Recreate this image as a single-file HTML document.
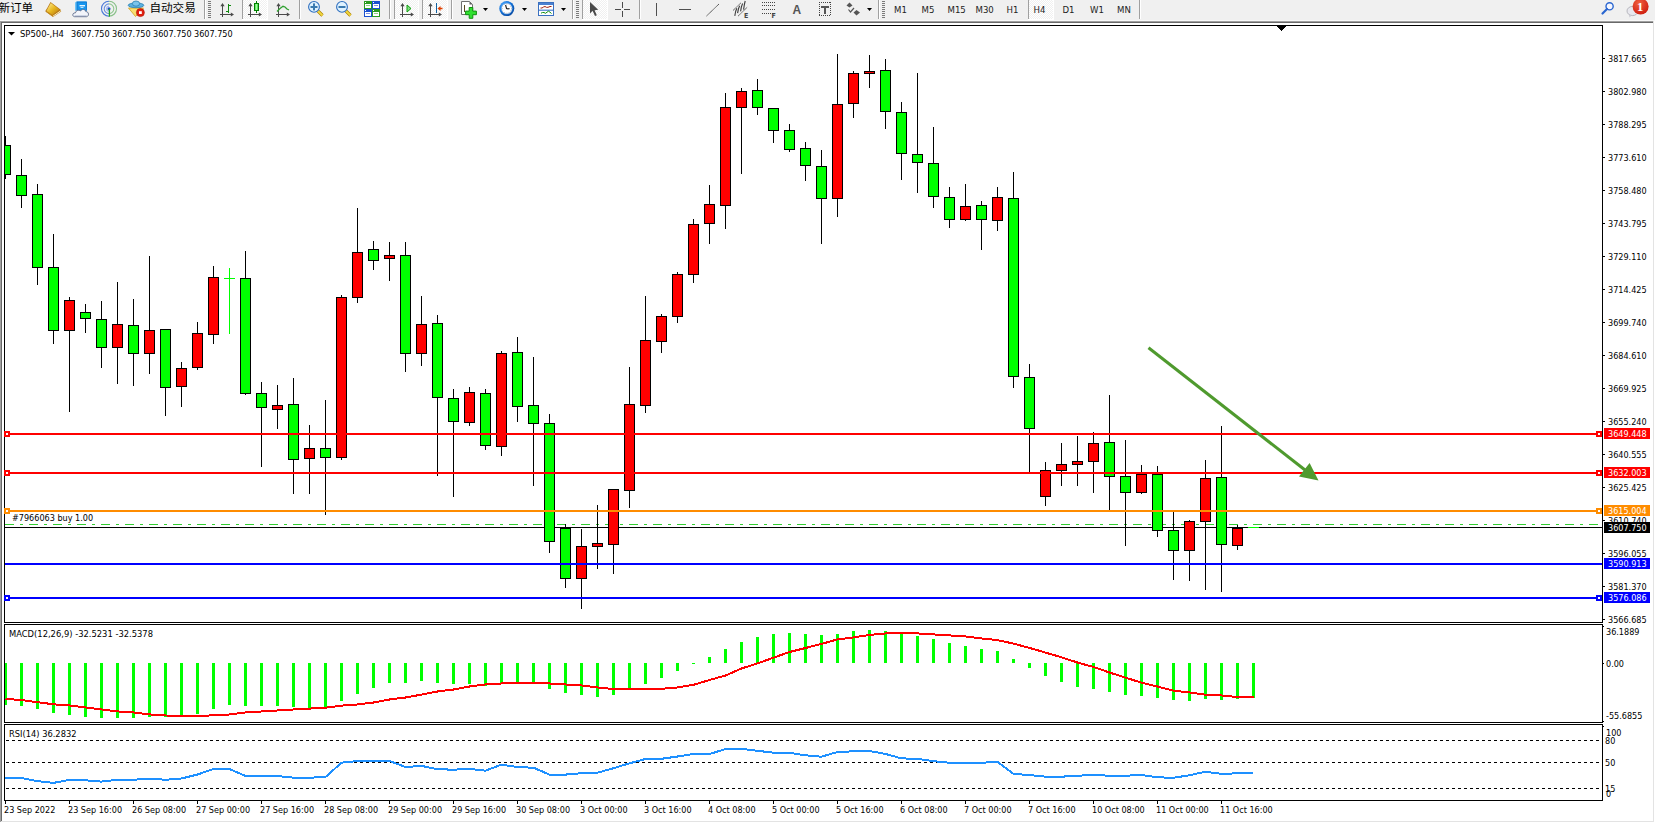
<!DOCTYPE html>
<html><head><meta charset="utf-8"><title>MT4 SP500 H4</title>
<style>
html,body{margin:0;padding:0;background:#fff;width:1655px;height:823px;overflow:hidden}
svg{display:block}
text{white-space:pre}
</style></head><body>
<svg width="1655" height="823" viewBox="0 0 1655 823" shape-rendering="crispEdges">
<rect x="0" y="0" width="1655" height="823" fill="#ffffff"/>
<defs><clipPath id="cmain"><rect x="5" y="26" width="1597" height="596"/></clipPath><clipPath id="cmacd"><rect x="5" y="625" width="1597" height="97"/></clipPath><clipPath id="crsi"><rect x="5" y="725" width="1597" height="75"/></clipPath></defs>
<rect x="0" y="0" width="1655" height="21" fill="#f0f0f0"/>
<rect x="0" y="20" width="1655" height="1" fill="#f8f8f8"/>
<rect x="0" y="21" width="1653" height="1" fill="#a0a0a0"/>
<rect x="0" y="22" width="1653" height="1" fill="#696969"/>
<rect x="0" y="21" width="1" height="801" fill="#a0a0a0"/>
<rect x="1" y="22" width="1" height="800" fill="#696969"/>
<rect x="1653" y="21" width="1" height="801" fill="#e3e3e3"/>
<rect x="1" y="821" width="1653" height="1" fill="#e3e3e3"/>
<rect x="1654" y="21" width="1" height="802" fill="#ffffff"/>
<rect x="0" y="822" width="1655" height="1" fill="#ffffff"/>
<rect x="5" y="524" width="9" height="1" fill="#32cd32"/>
<rect x="20" y="524" width="3" height="1" fill="#32cd32"/>
<rect x="29" y="524" width="9" height="1" fill="#32cd32"/>
<rect x="44" y="524" width="3" height="1" fill="#32cd32"/>
<rect x="53" y="524" width="9" height="1" fill="#32cd32"/>
<rect x="68" y="524" width="3" height="1" fill="#32cd32"/>
<rect x="77" y="524" width="9" height="1" fill="#32cd32"/>
<rect x="92" y="524" width="3" height="1" fill="#32cd32"/>
<rect x="101" y="524" width="9" height="1" fill="#32cd32"/>
<rect x="116" y="524" width="3" height="1" fill="#32cd32"/>
<rect x="125" y="524" width="9" height="1" fill="#32cd32"/>
<rect x="140" y="524" width="3" height="1" fill="#32cd32"/>
<rect x="149" y="524" width="9" height="1" fill="#32cd32"/>
<rect x="164" y="524" width="3" height="1" fill="#32cd32"/>
<rect x="173" y="524" width="9" height="1" fill="#32cd32"/>
<rect x="188" y="524" width="3" height="1" fill="#32cd32"/>
<rect x="197" y="524" width="9" height="1" fill="#32cd32"/>
<rect x="212" y="524" width="3" height="1" fill="#32cd32"/>
<rect x="221" y="524" width="9" height="1" fill="#32cd32"/>
<rect x="236" y="524" width="3" height="1" fill="#32cd32"/>
<rect x="245" y="524" width="9" height="1" fill="#32cd32"/>
<rect x="260" y="524" width="3" height="1" fill="#32cd32"/>
<rect x="269" y="524" width="9" height="1" fill="#32cd32"/>
<rect x="284" y="524" width="3" height="1" fill="#32cd32"/>
<rect x="293" y="524" width="9" height="1" fill="#32cd32"/>
<rect x="308" y="524" width="3" height="1" fill="#32cd32"/>
<rect x="317" y="524" width="9" height="1" fill="#32cd32"/>
<rect x="332" y="524" width="3" height="1" fill="#32cd32"/>
<rect x="341" y="524" width="9" height="1" fill="#32cd32"/>
<rect x="356" y="524" width="3" height="1" fill="#32cd32"/>
<rect x="365" y="524" width="9" height="1" fill="#32cd32"/>
<rect x="380" y="524" width="3" height="1" fill="#32cd32"/>
<rect x="389" y="524" width="9" height="1" fill="#32cd32"/>
<rect x="404" y="524" width="3" height="1" fill="#32cd32"/>
<rect x="413" y="524" width="9" height="1" fill="#32cd32"/>
<rect x="428" y="524" width="3" height="1" fill="#32cd32"/>
<rect x="437" y="524" width="9" height="1" fill="#32cd32"/>
<rect x="452" y="524" width="3" height="1" fill="#32cd32"/>
<rect x="461" y="524" width="9" height="1" fill="#32cd32"/>
<rect x="476" y="524" width="3" height="1" fill="#32cd32"/>
<rect x="485" y="524" width="9" height="1" fill="#32cd32"/>
<rect x="500" y="524" width="3" height="1" fill="#32cd32"/>
<rect x="509" y="524" width="9" height="1" fill="#32cd32"/>
<rect x="524" y="524" width="3" height="1" fill="#32cd32"/>
<rect x="533" y="524" width="9" height="1" fill="#32cd32"/>
<rect x="548" y="524" width="3" height="1" fill="#32cd32"/>
<rect x="557" y="524" width="9" height="1" fill="#32cd32"/>
<rect x="572" y="524" width="3" height="1" fill="#32cd32"/>
<rect x="581" y="524" width="9" height="1" fill="#32cd32"/>
<rect x="596" y="524" width="3" height="1" fill="#32cd32"/>
<rect x="605" y="524" width="9" height="1" fill="#32cd32"/>
<rect x="620" y="524" width="3" height="1" fill="#32cd32"/>
<rect x="629" y="524" width="9" height="1" fill="#32cd32"/>
<rect x="644" y="524" width="3" height="1" fill="#32cd32"/>
<rect x="653" y="524" width="9" height="1" fill="#32cd32"/>
<rect x="668" y="524" width="3" height="1" fill="#32cd32"/>
<rect x="677" y="524" width="9" height="1" fill="#32cd32"/>
<rect x="692" y="524" width="3" height="1" fill="#32cd32"/>
<rect x="701" y="524" width="9" height="1" fill="#32cd32"/>
<rect x="716" y="524" width="3" height="1" fill="#32cd32"/>
<rect x="725" y="524" width="9" height="1" fill="#32cd32"/>
<rect x="740" y="524" width="3" height="1" fill="#32cd32"/>
<rect x="749" y="524" width="9" height="1" fill="#32cd32"/>
<rect x="764" y="524" width="3" height="1" fill="#32cd32"/>
<rect x="773" y="524" width="9" height="1" fill="#32cd32"/>
<rect x="788" y="524" width="3" height="1" fill="#32cd32"/>
<rect x="797" y="524" width="9" height="1" fill="#32cd32"/>
<rect x="812" y="524" width="3" height="1" fill="#32cd32"/>
<rect x="821" y="524" width="9" height="1" fill="#32cd32"/>
<rect x="836" y="524" width="3" height="1" fill="#32cd32"/>
<rect x="845" y="524" width="9" height="1" fill="#32cd32"/>
<rect x="860" y="524" width="3" height="1" fill="#32cd32"/>
<rect x="869" y="524" width="9" height="1" fill="#32cd32"/>
<rect x="884" y="524" width="3" height="1" fill="#32cd32"/>
<rect x="893" y="524" width="9" height="1" fill="#32cd32"/>
<rect x="908" y="524" width="3" height="1" fill="#32cd32"/>
<rect x="917" y="524" width="9" height="1" fill="#32cd32"/>
<rect x="932" y="524" width="3" height="1" fill="#32cd32"/>
<rect x="941" y="524" width="9" height="1" fill="#32cd32"/>
<rect x="956" y="524" width="3" height="1" fill="#32cd32"/>
<rect x="965" y="524" width="9" height="1" fill="#32cd32"/>
<rect x="980" y="524" width="3" height="1" fill="#32cd32"/>
<rect x="989" y="524" width="9" height="1" fill="#32cd32"/>
<rect x="1004" y="524" width="3" height="1" fill="#32cd32"/>
<rect x="1013" y="524" width="9" height="1" fill="#32cd32"/>
<rect x="1028" y="524" width="3" height="1" fill="#32cd32"/>
<rect x="1037" y="524" width="9" height="1" fill="#32cd32"/>
<rect x="1052" y="524" width="3" height="1" fill="#32cd32"/>
<rect x="1061" y="524" width="9" height="1" fill="#32cd32"/>
<rect x="1076" y="524" width="3" height="1" fill="#32cd32"/>
<rect x="1085" y="524" width="9" height="1" fill="#32cd32"/>
<rect x="1100" y="524" width="3" height="1" fill="#32cd32"/>
<rect x="1109" y="524" width="9" height="1" fill="#32cd32"/>
<rect x="1124" y="524" width="3" height="1" fill="#32cd32"/>
<rect x="1133" y="524" width="9" height="1" fill="#32cd32"/>
<rect x="1148" y="524" width="3" height="1" fill="#32cd32"/>
<rect x="1157" y="524" width="9" height="1" fill="#32cd32"/>
<rect x="1172" y="524" width="3" height="1" fill="#32cd32"/>
<rect x="1181" y="524" width="9" height="1" fill="#32cd32"/>
<rect x="1196" y="524" width="3" height="1" fill="#32cd32"/>
<rect x="1205" y="524" width="9" height="1" fill="#32cd32"/>
<rect x="1220" y="524" width="3" height="1" fill="#32cd32"/>
<rect x="1229" y="524" width="9" height="1" fill="#32cd32"/>
<rect x="1244" y="524" width="3" height="1" fill="#32cd32"/>
<rect x="1253" y="524" width="9" height="1" fill="#32cd32"/>
<rect x="1268" y="524" width="3" height="1" fill="#32cd32"/>
<rect x="1277" y="524" width="9" height="1" fill="#32cd32"/>
<rect x="1292" y="524" width="3" height="1" fill="#32cd32"/>
<rect x="1301" y="524" width="9" height="1" fill="#32cd32"/>
<rect x="1316" y="524" width="3" height="1" fill="#32cd32"/>
<rect x="1325" y="524" width="9" height="1" fill="#32cd32"/>
<rect x="1340" y="524" width="3" height="1" fill="#32cd32"/>
<rect x="1349" y="524" width="9" height="1" fill="#32cd32"/>
<rect x="1364" y="524" width="3" height="1" fill="#32cd32"/>
<rect x="1373" y="524" width="9" height="1" fill="#32cd32"/>
<rect x="1388" y="524" width="3" height="1" fill="#32cd32"/>
<rect x="1397" y="524" width="9" height="1" fill="#32cd32"/>
<rect x="1412" y="524" width="3" height="1" fill="#32cd32"/>
<rect x="1421" y="524" width="9" height="1" fill="#32cd32"/>
<rect x="1436" y="524" width="3" height="1" fill="#32cd32"/>
<rect x="1445" y="524" width="9" height="1" fill="#32cd32"/>
<rect x="1460" y="524" width="3" height="1" fill="#32cd32"/>
<rect x="1469" y="524" width="9" height="1" fill="#32cd32"/>
<rect x="1484" y="524" width="3" height="1" fill="#32cd32"/>
<rect x="1493" y="524" width="9" height="1" fill="#32cd32"/>
<rect x="1508" y="524" width="3" height="1" fill="#32cd32"/>
<rect x="1517" y="524" width="9" height="1" fill="#32cd32"/>
<rect x="1532" y="524" width="3" height="1" fill="#32cd32"/>
<rect x="1541" y="524" width="9" height="1" fill="#32cd32"/>
<rect x="1556" y="524" width="3" height="1" fill="#32cd32"/>
<rect x="1565" y="524" width="9" height="1" fill="#32cd32"/>
<rect x="1580" y="524" width="3" height="1" fill="#32cd32"/>
<rect x="1589" y="524" width="9" height="1" fill="#32cd32"/>
<rect x="5" y="527" width="1597" height="1" fill="#000"/>
<rect x="1248" y="527" width="11" height="1" fill="#00ff00"/>
<g clip-path="url(#cmain)">
<rect x="5" y="136" width="1" height="43" fill="#000"/>
<rect x="21" y="159" width="1" height="49" fill="#000"/>
<rect x="37" y="184" width="1" height="101" fill="#000"/>
<rect x="53" y="234" width="1" height="110" fill="#000"/>
<rect x="69" y="297" width="1" height="115" fill="#000"/>
<rect x="85" y="304" width="1" height="29" fill="#000"/>
<rect x="101" y="301" width="1" height="67" fill="#000"/>
<rect x="117" y="282" width="1" height="102" fill="#000"/>
<rect x="133" y="299" width="1" height="87" fill="#000"/>
<rect x="149" y="256" width="1" height="118" fill="#000"/>
<rect x="165" y="329" width="1" height="87" fill="#000"/>
<rect x="181" y="362" width="1" height="45" fill="#000"/>
<rect x="197" y="322" width="1" height="48" fill="#000"/>
<rect x="213" y="266" width="1" height="78" fill="#000"/>
<rect x="229" y="268" width="1" height="66" fill="#00ff00"/>
<rect x="224" y="278" width="11" height="1" fill="#00ff00"/>
<rect x="245" y="251" width="1" height="144" fill="#000"/>
<rect x="261" y="382" width="1" height="85" fill="#000"/>
<rect x="277" y="385" width="1" height="44" fill="#000"/>
<rect x="293" y="378" width="1" height="116" fill="#000"/>
<rect x="309" y="425" width="1" height="69" fill="#000"/>
<rect x="325" y="400" width="1" height="115" fill="#000"/>
<rect x="341" y="295" width="1" height="165" fill="#000"/>
<rect x="357" y="208" width="1" height="95" fill="#000"/>
<rect x="373" y="241" width="1" height="29" fill="#000"/>
<rect x="389" y="242" width="1" height="39" fill="#000"/>
<rect x="405" y="242" width="1" height="130" fill="#000"/>
<rect x="421" y="296" width="1" height="70" fill="#000"/>
<rect x="437" y="315" width="1" height="161" fill="#000"/>
<rect x="453" y="389" width="1" height="108" fill="#000"/>
<rect x="469" y="387" width="1" height="39" fill="#000"/>
<rect x="485" y="389" width="1" height="61" fill="#000"/>
<rect x="501" y="351" width="1" height="105" fill="#000"/>
<rect x="517" y="337" width="1" height="85" fill="#000"/>
<rect x="533" y="357" width="1" height="129" fill="#000"/>
<rect x="549" y="414" width="1" height="139" fill="#000"/>
<rect x="565" y="524" width="1" height="64" fill="#000"/>
<rect x="581" y="529" width="1" height="80" fill="#000"/>
<rect x="597" y="505" width="1" height="64" fill="#000"/>
<rect x="613" y="489" width="1" height="85" fill="#000"/>
<rect x="629" y="367" width="1" height="141" fill="#000"/>
<rect x="645" y="296" width="1" height="117" fill="#000"/>
<rect x="661" y="314" width="1" height="39" fill="#000"/>
<rect x="677" y="272" width="1" height="51" fill="#000"/>
<rect x="693" y="219" width="1" height="64" fill="#000"/>
<rect x="709" y="185" width="1" height="59" fill="#000"/>
<rect x="725" y="93" width="1" height="136" fill="#000"/>
<rect x="741" y="88" width="1" height="86" fill="#000"/>
<rect x="757" y="79" width="1" height="36" fill="#000"/>
<rect x="773" y="108" width="1" height="35" fill="#000"/>
<rect x="789" y="124" width="1" height="28" fill="#000"/>
<rect x="805" y="142" width="1" height="39" fill="#000"/>
<rect x="821" y="150" width="1" height="94" fill="#000"/>
<rect x="837" y="54" width="1" height="163" fill="#000"/>
<rect x="853" y="71" width="1" height="47" fill="#000"/>
<rect x="869" y="55" width="1" height="33" fill="#000"/>
<rect x="885" y="59" width="1" height="70" fill="#000"/>
<rect x="901" y="102" width="1" height="78" fill="#000"/>
<rect x="917" y="73" width="1" height="120" fill="#000"/>
<rect x="933" y="127" width="1" height="81" fill="#000"/>
<rect x="949" y="187" width="1" height="41" fill="#000"/>
<rect x="965" y="184" width="1" height="37" fill="#000"/>
<rect x="981" y="201" width="1" height="49" fill="#000"/>
<rect x="997" y="187" width="1" height="44" fill="#000"/>
<rect x="1013" y="172" width="1" height="216" fill="#000"/>
<rect x="1029" y="364" width="1" height="108" fill="#000"/>
<rect x="1045" y="462" width="1" height="44" fill="#000"/>
<rect x="1061" y="443" width="1" height="43" fill="#000"/>
<rect x="1077" y="436" width="1" height="50" fill="#000"/>
<rect x="1093" y="432" width="1" height="61" fill="#000"/>
<rect x="1109" y="395" width="1" height="115" fill="#000"/>
<rect x="1125" y="440" width="1" height="106" fill="#000"/>
<rect x="1141" y="465" width="1" height="29" fill="#000"/>
<rect x="1157" y="466" width="1" height="71" fill="#000"/>
<rect x="1173" y="512" width="1" height="68" fill="#000"/>
<rect x="1189" y="520" width="1" height="61" fill="#000"/>
<rect x="1205" y="460" width="1" height="130" fill="#000"/>
<rect x="1221" y="426" width="1" height="166" fill="#000"/>
<rect x="1237" y="525" width="1" height="25" fill="#000"/>
<rect x="1248" y="527" width="11" height="1" fill="#00ff00"/>
<rect x="0" y="145" width="11" height="30" fill="#000"/>
<rect x="1" y="146" width="9" height="28" fill="#00ff00"/>
<rect x="16" y="175" width="11" height="21" fill="#000"/>
<rect x="17" y="176" width="9" height="19" fill="#00ff00"/>
<rect x="32" y="194" width="11" height="74" fill="#000"/>
<rect x="33" y="195" width="9" height="72" fill="#00ff00"/>
<rect x="48" y="267" width="11" height="64" fill="#000"/>
<rect x="49" y="268" width="9" height="62" fill="#00ff00"/>
<rect x="64" y="300" width="11" height="31" fill="#000"/>
<rect x="65" y="301" width="9" height="29" fill="#ff0000"/>
<rect x="80" y="312" width="11" height="7" fill="#000"/>
<rect x="81" y="313" width="9" height="5" fill="#00ff00"/>
<rect x="96" y="319" width="11" height="29" fill="#000"/>
<rect x="97" y="320" width="9" height="27" fill="#00ff00"/>
<rect x="112" y="324" width="11" height="24" fill="#000"/>
<rect x="113" y="325" width="9" height="22" fill="#ff0000"/>
<rect x="128" y="325" width="11" height="29" fill="#000"/>
<rect x="129" y="326" width="9" height="27" fill="#00ff00"/>
<rect x="144" y="330" width="11" height="24" fill="#000"/>
<rect x="145" y="331" width="9" height="22" fill="#ff0000"/>
<rect x="160" y="329" width="11" height="59" fill="#000"/>
<rect x="161" y="330" width="9" height="57" fill="#00ff00"/>
<rect x="176" y="368" width="11" height="19" fill="#000"/>
<rect x="177" y="369" width="9" height="17" fill="#ff0000"/>
<rect x="192" y="333" width="11" height="35" fill="#000"/>
<rect x="193" y="334" width="9" height="33" fill="#ff0000"/>
<rect x="208" y="277" width="11" height="58" fill="#000"/>
<rect x="209" y="278" width="9" height="56" fill="#ff0000"/>
<rect x="240" y="278" width="11" height="116" fill="#000"/>
<rect x="241" y="279" width="9" height="114" fill="#00ff00"/>
<rect x="256" y="393" width="11" height="15" fill="#000"/>
<rect x="257" y="394" width="9" height="13" fill="#00ff00"/>
<rect x="272" y="405" width="11" height="5" fill="#000"/>
<rect x="273" y="406" width="9" height="3" fill="#ff0000"/>
<rect x="288" y="404" width="11" height="56" fill="#000"/>
<rect x="289" y="405" width="9" height="54" fill="#00ff00"/>
<rect x="304" y="448" width="11" height="11" fill="#000"/>
<rect x="305" y="449" width="9" height="9" fill="#ff0000"/>
<rect x="320" y="448" width="11" height="10" fill="#000"/>
<rect x="321" y="449" width="9" height="8" fill="#00ff00"/>
<rect x="336" y="297" width="11" height="161" fill="#000"/>
<rect x="337" y="298" width="9" height="159" fill="#ff0000"/>
<rect x="352" y="252" width="11" height="46" fill="#000"/>
<rect x="353" y="253" width="9" height="44" fill="#ff0000"/>
<rect x="368" y="249" width="11" height="12" fill="#000"/>
<rect x="369" y="250" width="9" height="10" fill="#00ff00"/>
<rect x="384" y="255" width="11" height="4" fill="#000"/>
<rect x="385" y="256" width="9" height="2" fill="#ff0000"/>
<rect x="400" y="255" width="11" height="99" fill="#000"/>
<rect x="401" y="256" width="9" height="97" fill="#00ff00"/>
<rect x="416" y="324" width="11" height="30" fill="#000"/>
<rect x="417" y="325" width="9" height="28" fill="#ff0000"/>
<rect x="432" y="323" width="11" height="75" fill="#000"/>
<rect x="433" y="324" width="9" height="73" fill="#00ff00"/>
<rect x="448" y="398" width="11" height="24" fill="#000"/>
<rect x="449" y="399" width="9" height="22" fill="#00ff00"/>
<rect x="464" y="392" width="11" height="31" fill="#000"/>
<rect x="465" y="393" width="9" height="29" fill="#ff0000"/>
<rect x="480" y="393" width="11" height="53" fill="#000"/>
<rect x="481" y="394" width="9" height="51" fill="#00ff00"/>
<rect x="496" y="353" width="11" height="94" fill="#000"/>
<rect x="497" y="354" width="9" height="92" fill="#ff0000"/>
<rect x="512" y="352" width="11" height="55" fill="#000"/>
<rect x="513" y="353" width="9" height="53" fill="#00ff00"/>
<rect x="528" y="405" width="11" height="19" fill="#000"/>
<rect x="529" y="406" width="9" height="17" fill="#00ff00"/>
<rect x="544" y="423" width="11" height="119" fill="#000"/>
<rect x="545" y="424" width="9" height="117" fill="#00ff00"/>
<rect x="560" y="528" width="11" height="51" fill="#000"/>
<rect x="561" y="529" width="9" height="49" fill="#00ff00"/>
<rect x="576" y="546" width="11" height="33" fill="#000"/>
<rect x="577" y="547" width="9" height="31" fill="#ff0000"/>
<rect x="592" y="543" width="11" height="4" fill="#000"/>
<rect x="593" y="544" width="9" height="2" fill="#ff0000"/>
<rect x="608" y="489" width="11" height="56" fill="#000"/>
<rect x="609" y="490" width="9" height="54" fill="#ff0000"/>
<rect x="624" y="404" width="11" height="87" fill="#000"/>
<rect x="625" y="405" width="9" height="85" fill="#ff0000"/>
<rect x="640" y="340" width="11" height="66" fill="#000"/>
<rect x="641" y="341" width="9" height="64" fill="#ff0000"/>
<rect x="656" y="316" width="11" height="26" fill="#000"/>
<rect x="657" y="317" width="9" height="24" fill="#ff0000"/>
<rect x="672" y="274" width="11" height="43" fill="#000"/>
<rect x="673" y="275" width="9" height="41" fill="#ff0000"/>
<rect x="688" y="224" width="11" height="51" fill="#000"/>
<rect x="689" y="225" width="9" height="49" fill="#ff0000"/>
<rect x="704" y="204" width="11" height="20" fill="#000"/>
<rect x="705" y="205" width="9" height="18" fill="#ff0000"/>
<rect x="720" y="107" width="11" height="99" fill="#000"/>
<rect x="721" y="108" width="9" height="97" fill="#ff0000"/>
<rect x="736" y="91" width="11" height="17" fill="#000"/>
<rect x="737" y="92" width="9" height="15" fill="#ff0000"/>
<rect x="752" y="90" width="11" height="18" fill="#000"/>
<rect x="753" y="91" width="9" height="16" fill="#00ff00"/>
<rect x="768" y="108" width="11" height="23" fill="#000"/>
<rect x="769" y="109" width="9" height="21" fill="#00ff00"/>
<rect x="784" y="130" width="11" height="20" fill="#000"/>
<rect x="785" y="131" width="9" height="18" fill="#00ff00"/>
<rect x="800" y="148" width="11" height="18" fill="#000"/>
<rect x="801" y="149" width="9" height="16" fill="#00ff00"/>
<rect x="816" y="166" width="11" height="33" fill="#000"/>
<rect x="817" y="167" width="9" height="31" fill="#00ff00"/>
<rect x="832" y="104" width="11" height="95" fill="#000"/>
<rect x="833" y="105" width="9" height="93" fill="#ff0000"/>
<rect x="848" y="73" width="11" height="31" fill="#000"/>
<rect x="849" y="74" width="9" height="29" fill="#ff0000"/>
<rect x="864" y="71" width="11" height="3" fill="#000"/>
<rect x="865" y="72" width="9" height="1" fill="#ff0000"/>
<rect x="880" y="70" width="11" height="42" fill="#000"/>
<rect x="881" y="71" width="9" height="40" fill="#00ff00"/>
<rect x="896" y="112" width="11" height="42" fill="#000"/>
<rect x="897" y="113" width="9" height="40" fill="#00ff00"/>
<rect x="912" y="154" width="11" height="9" fill="#000"/>
<rect x="913" y="155" width="9" height="7" fill="#00ff00"/>
<rect x="928" y="163" width="11" height="34" fill="#000"/>
<rect x="929" y="164" width="9" height="32" fill="#00ff00"/>
<rect x="944" y="197" width="11" height="23" fill="#000"/>
<rect x="945" y="198" width="9" height="21" fill="#00ff00"/>
<rect x="960" y="206" width="11" height="14" fill="#000"/>
<rect x="961" y="207" width="9" height="12" fill="#ff0000"/>
<rect x="976" y="205" width="11" height="15" fill="#000"/>
<rect x="977" y="206" width="9" height="13" fill="#00ff00"/>
<rect x="992" y="197" width="11" height="24" fill="#000"/>
<rect x="993" y="198" width="9" height="22" fill="#ff0000"/>
<rect x="1008" y="198" width="11" height="179" fill="#000"/>
<rect x="1009" y="199" width="9" height="177" fill="#00ff00"/>
<rect x="1024" y="377" width="11" height="52" fill="#000"/>
<rect x="1025" y="378" width="9" height="50" fill="#00ff00"/>
<rect x="1040" y="470" width="11" height="27" fill="#000"/>
<rect x="1041" y="471" width="9" height="25" fill="#ff0000"/>
<rect x="1056" y="464" width="11" height="7" fill="#000"/>
<rect x="1057" y="465" width="9" height="5" fill="#ff0000"/>
<rect x="1072" y="461" width="11" height="4" fill="#000"/>
<rect x="1073" y="462" width="9" height="2" fill="#ff0000"/>
<rect x="1088" y="443" width="11" height="19" fill="#000"/>
<rect x="1089" y="444" width="9" height="17" fill="#ff0000"/>
<rect x="1104" y="442" width="11" height="35" fill="#000"/>
<rect x="1105" y="443" width="9" height="33" fill="#00ff00"/>
<rect x="1120" y="476" width="11" height="17" fill="#000"/>
<rect x="1121" y="477" width="9" height="15" fill="#00ff00"/>
<rect x="1136" y="474" width="11" height="19" fill="#000"/>
<rect x="1137" y="475" width="9" height="17" fill="#ff0000"/>
<rect x="1152" y="474" width="11" height="57" fill="#000"/>
<rect x="1153" y="475" width="9" height="55" fill="#00ff00"/>
<rect x="1168" y="530" width="11" height="21" fill="#000"/>
<rect x="1169" y="531" width="9" height="19" fill="#00ff00"/>
<rect x="1184" y="521" width="11" height="30" fill="#000"/>
<rect x="1185" y="522" width="9" height="28" fill="#ff0000"/>
<rect x="1200" y="478" width="11" height="44" fill="#000"/>
<rect x="1201" y="479" width="9" height="42" fill="#ff0000"/>
<rect x="1216" y="477" width="11" height="68" fill="#000"/>
<rect x="1217" y="478" width="9" height="66" fill="#00ff00"/>
<rect x="1232" y="528" width="11" height="18" fill="#000"/>
<rect x="1233" y="529" width="9" height="16" fill="#ff0000"/>
</g>
<rect x="5" y="433" width="1597" height="2" fill="#ff0000"/>
<rect x="5" y="472" width="1597" height="2" fill="#ff0000"/>
<rect x="5" y="510" width="1597" height="2" fill="#ff8c00"/>
<rect x="5" y="563" width="1597" height="2" fill="#0000ff"/>
<rect x="5" y="597" width="1597" height="2" fill="#0000ff"/>
<g shape-rendering="auto">
<line x1="1148.5" y1="347.8" x2="1306" y2="470.8" stroke="#4f9a2e" stroke-width="3"/>
<polygon points="1318.5,480.5 1299,476.4 1309.6,463.1" fill="#4f9a2e"/>
</g>
<rect x="4" y="25" width="1599" height="1" fill="#000"/>
<rect x="4" y="622" width="1599" height="1" fill="#000"/>
<rect x="4" y="25" width="1" height="598" fill="#000"/>
<rect x="1602" y="25" width="1" height="598" fill="#000"/>
<rect x="4" y="431" width="6" height="6" fill="#ff0000"/>
<rect x="6" y="433" width="2" height="2" fill="#ffffff"/>
<rect x="1596" y="431" width="6" height="6" fill="#ff0000"/>
<rect x="1598" y="433" width="2" height="2" fill="#ffffff"/>
<rect x="4" y="470" width="6" height="6" fill="#ff0000"/>
<rect x="6" y="472" width="2" height="2" fill="#ffffff"/>
<rect x="1596" y="470" width="6" height="6" fill="#ff0000"/>
<rect x="1598" y="472" width="2" height="2" fill="#ffffff"/>
<rect x="4" y="508" width="6" height="6" fill="#ff8c00"/>
<rect x="6" y="510" width="2" height="2" fill="#ffffff"/>
<rect x="1596" y="508" width="6" height="6" fill="#ff8c00"/>
<rect x="1598" y="510" width="2" height="2" fill="#ffffff"/>
<rect x="4" y="595" width="6" height="6" fill="#0000ff"/>
<rect x="6" y="597" width="2" height="2" fill="#ffffff"/>
<rect x="1596" y="595" width="6" height="6" fill="#0000ff"/>
<rect x="1598" y="597" width="2" height="2" fill="#ffffff"/>
<rect x="1603" y="58" width="2" height="1" fill="#000"/>
<text x="1608" y="62" style="font-family:'DejaVu Sans Condensed','Liberation Sans',sans-serif;font-size:9px" fill="#000">3817.665</text>
<rect x="1603" y="91" width="2" height="1" fill="#000"/>
<text x="1608" y="95" style="font-family:'DejaVu Sans Condensed','Liberation Sans',sans-serif;font-size:9px" fill="#000">3802.980</text>
<rect x="1603" y="124" width="2" height="1" fill="#000"/>
<text x="1608" y="128" style="font-family:'DejaVu Sans Condensed','Liberation Sans',sans-serif;font-size:9px" fill="#000">3788.295</text>
<rect x="1603" y="157" width="2" height="1" fill="#000"/>
<text x="1608" y="161" style="font-family:'DejaVu Sans Condensed','Liberation Sans',sans-serif;font-size:9px" fill="#000">3773.610</text>
<rect x="1603" y="190" width="2" height="1" fill="#000"/>
<text x="1608" y="194" style="font-family:'DejaVu Sans Condensed','Liberation Sans',sans-serif;font-size:9px" fill="#000">3758.480</text>
<rect x="1603" y="223" width="2" height="1" fill="#000"/>
<text x="1608" y="227" style="font-family:'DejaVu Sans Condensed','Liberation Sans',sans-serif;font-size:9px" fill="#000">3743.795</text>
<rect x="1603" y="256" width="2" height="1" fill="#000"/>
<text x="1608" y="260" style="font-family:'DejaVu Sans Condensed','Liberation Sans',sans-serif;font-size:9px" fill="#000">3729.110</text>
<rect x="1603" y="289" width="2" height="1" fill="#000"/>
<text x="1608" y="293" style="font-family:'DejaVu Sans Condensed','Liberation Sans',sans-serif;font-size:9px" fill="#000">3714.425</text>
<rect x="1603" y="322" width="2" height="1" fill="#000"/>
<text x="1608" y="326" style="font-family:'DejaVu Sans Condensed','Liberation Sans',sans-serif;font-size:9px" fill="#000">3699.740</text>
<rect x="1603" y="355" width="2" height="1" fill="#000"/>
<text x="1608" y="359" style="font-family:'DejaVu Sans Condensed','Liberation Sans',sans-serif;font-size:9px" fill="#000">3684.610</text>
<rect x="1603" y="388" width="2" height="1" fill="#000"/>
<text x="1608" y="392" style="font-family:'DejaVu Sans Condensed','Liberation Sans',sans-serif;font-size:9px" fill="#000">3669.925</text>
<rect x="1603" y="421" width="2" height="1" fill="#000"/>
<text x="1608" y="425" style="font-family:'DejaVu Sans Condensed','Liberation Sans',sans-serif;font-size:9px" fill="#000">3655.240</text>
<rect x="1603" y="454" width="2" height="1" fill="#000"/>
<text x="1608" y="458" style="font-family:'DejaVu Sans Condensed','Liberation Sans',sans-serif;font-size:9px" fill="#000">3640.555</text>
<rect x="1603" y="487" width="2" height="1" fill="#000"/>
<text x="1608" y="491" style="font-family:'DejaVu Sans Condensed','Liberation Sans',sans-serif;font-size:9px" fill="#000">3625.425</text>
<rect x="1603" y="520" width="2" height="1" fill="#000"/>
<text x="1608" y="524" style="font-family:'DejaVu Sans Condensed','Liberation Sans',sans-serif;font-size:9px" fill="#000">3610.740</text>
<rect x="1603" y="553" width="2" height="1" fill="#000"/>
<text x="1608" y="557" style="font-family:'DejaVu Sans Condensed','Liberation Sans',sans-serif;font-size:9px" fill="#000">3596.055</text>
<rect x="1603" y="586" width="2" height="1" fill="#000"/>
<text x="1608" y="590" style="font-family:'DejaVu Sans Condensed','Liberation Sans',sans-serif;font-size:9px" fill="#000">3581.370</text>
<rect x="1603" y="619" width="2" height="1" fill="#000"/>
<text x="1608" y="623" style="font-family:'DejaVu Sans Condensed','Liberation Sans',sans-serif;font-size:9px" fill="#000">3566.685</text>
<rect x="1604" y="428" width="46" height="11" fill="#ff0000"/>
<text x="1608" y="437" style="font-family:'DejaVu Sans Condensed','Liberation Sans',sans-serif;font-size:9px" fill="#fff">3649.448</text>
<rect x="1604" y="467" width="46" height="11" fill="#ff0000"/>
<text x="1608" y="476" style="font-family:'DejaVu Sans Condensed','Liberation Sans',sans-serif;font-size:9px" fill="#fff">3632.003</text>
<rect x="1604" y="505" width="46" height="11" fill="#ff8c00"/>
<text x="1608" y="514" style="font-family:'DejaVu Sans Condensed','Liberation Sans',sans-serif;font-size:9px" fill="#fff">3615.004</text>
<rect x="1604" y="522" width="46" height="11" fill="#000"/>
<text x="1608" y="531" style="font-family:'DejaVu Sans Condensed','Liberation Sans',sans-serif;font-size:9px" fill="#fff">3607.750</text>
<rect x="1604" y="558" width="46" height="11" fill="#0000ff"/>
<text x="1608" y="567" style="font-family:'DejaVu Sans Condensed','Liberation Sans',sans-serif;font-size:9px" fill="#fff">3590.913</text>
<rect x="1604" y="592" width="46" height="11" fill="#0000ff"/>
<text x="1608" y="601" style="font-family:'DejaVu Sans Condensed','Liberation Sans',sans-serif;font-size:9px" fill="#fff">3576.086</text>
<polygon points="8,32 15,32 11.5,35.5" fill="#000" shape-rendering="auto"/>
<text x="20" y="37" style="font-family:'DejaVu Sans Condensed','Liberation Sans',sans-serif;font-size:9px" fill="#000" textLength="44" lengthAdjust="spacingAndGlyphs">SP500-,H4</text>
<text x="71" y="37" style="font-family:'DejaVu Sans Condensed','Liberation Sans',sans-serif;font-size:9px" fill="#000">3607.750</text>
<text x="112" y="37" style="font-family:'DejaVu Sans Condensed','Liberation Sans',sans-serif;font-size:9px" fill="#000">3607.750</text>
<text x="153" y="37" style="font-family:'DejaVu Sans Condensed','Liberation Sans',sans-serif;font-size:9px" fill="#000">3607.750</text>
<text x="194" y="37" style="font-family:'DejaVu Sans Condensed','Liberation Sans',sans-serif;font-size:9px" fill="#000">3607.750</text>
<text x="12" y="521" style="font-family:'DejaVu Sans Condensed','Liberation Sans',sans-serif;font-size:9px" fill="#000">#7966063 buy 1.00</text>
<polygon points="1276,26 1286,26 1281,31" fill="#000"/>
<rect x="4" y="624" width="1599" height="1" fill="#000"/>
<rect x="4" y="722" width="1599" height="1" fill="#000"/>
<rect x="4" y="624" width="1" height="99" fill="#000"/>
<rect x="1602" y="624" width="1" height="99" fill="#000"/>
<g clip-path="url(#cmacd)">
<rect x="4" y="663" width="3" height="42" fill="#00ff00"/>
<rect x="20" y="663" width="3" height="43" fill="#00ff00"/>
<rect x="36" y="663" width="3" height="46" fill="#00ff00"/>
<rect x="52" y="663" width="3" height="50" fill="#00ff00"/>
<rect x="68" y="663" width="3" height="52" fill="#00ff00"/>
<rect x="84" y="663" width="3" height="54" fill="#00ff00"/>
<rect x="100" y="663" width="3" height="55" fill="#00ff00"/>
<rect x="116" y="663" width="3" height="55" fill="#00ff00"/>
<rect x="132" y="663" width="3" height="55" fill="#00ff00"/>
<rect x="148" y="663" width="3" height="54" fill="#00ff00"/>
<rect x="164" y="663" width="3" height="54" fill="#00ff00"/>
<rect x="180" y="663" width="3" height="53" fill="#00ff00"/>
<rect x="196" y="663" width="3" height="51" fill="#00ff00"/>
<rect x="212" y="663" width="3" height="46" fill="#00ff00"/>
<rect x="228" y="663" width="3" height="42" fill="#00ff00"/>
<rect x="244" y="663" width="3" height="43" fill="#00ff00"/>
<rect x="260" y="663" width="3" height="43" fill="#00ff00"/>
<rect x="276" y="663" width="3" height="43" fill="#00ff00"/>
<rect x="292" y="663" width="3" height="44" fill="#00ff00"/>
<rect x="308" y="663" width="3" height="45" fill="#00ff00"/>
<rect x="324" y="663" width="3" height="44" fill="#00ff00"/>
<rect x="340" y="663" width="3" height="38" fill="#00ff00"/>
<rect x="356" y="663" width="3" height="31" fill="#00ff00"/>
<rect x="372" y="663" width="3" height="25" fill="#00ff00"/>
<rect x="388" y="663" width="3" height="20" fill="#00ff00"/>
<rect x="404" y="663" width="3" height="20" fill="#00ff00"/>
<rect x="420" y="663" width="3" height="18" fill="#00ff00"/>
<rect x="436" y="663" width="3" height="20" fill="#00ff00"/>
<rect x="452" y="663" width="3" height="21" fill="#00ff00"/>
<rect x="468" y="663" width="3" height="21" fill="#00ff00"/>
<rect x="484" y="663" width="3" height="23" fill="#00ff00"/>
<rect x="500" y="663" width="3" height="20" fill="#00ff00"/>
<rect x="516" y="663" width="3" height="19" fill="#00ff00"/>
<rect x="532" y="663" width="3" height="19" fill="#00ff00"/>
<rect x="548" y="663" width="3" height="26" fill="#00ff00"/>
<rect x="564" y="663" width="3" height="30" fill="#00ff00"/>
<rect x="580" y="663" width="3" height="32" fill="#00ff00"/>
<rect x="596" y="663" width="3" height="34" fill="#00ff00"/>
<rect x="612" y="663" width="3" height="32" fill="#00ff00"/>
<rect x="628" y="663" width="3" height="25" fill="#00ff00"/>
<rect x="644" y="663" width="3" height="21" fill="#00ff00"/>
<rect x="660" y="663" width="3" height="15" fill="#00ff00"/>
<rect x="676" y="663" width="3" height="8" fill="#00ff00"/>
<rect x="692" y="663" width="3" height="1" fill="#00ff00"/>
<rect x="708" y="657" width="3" height="6" fill="#00ff00"/>
<rect x="724" y="649" width="3" height="14" fill="#00ff00"/>
<rect x="740" y="642" width="3" height="21" fill="#00ff00"/>
<rect x="756" y="637" width="3" height="26" fill="#00ff00"/>
<rect x="772" y="634" width="3" height="29" fill="#00ff00"/>
<rect x="788" y="633" width="3" height="30" fill="#00ff00"/>
<rect x="804" y="634" width="3" height="29" fill="#00ff00"/>
<rect x="820" y="635" width="3" height="28" fill="#00ff00"/>
<rect x="836" y="634" width="3" height="29" fill="#00ff00"/>
<rect x="852" y="631" width="3" height="32" fill="#00ff00"/>
<rect x="868" y="630" width="3" height="33" fill="#00ff00"/>
<rect x="884" y="631" width="3" height="32" fill="#00ff00"/>
<rect x="900" y="634" width="3" height="29" fill="#00ff00"/>
<rect x="916" y="636" width="3" height="27" fill="#00ff00"/>
<rect x="932" y="639" width="3" height="24" fill="#00ff00"/>
<rect x="948" y="643" width="3" height="20" fill="#00ff00"/>
<rect x="964" y="646" width="3" height="17" fill="#00ff00"/>
<rect x="980" y="649" width="3" height="14" fill="#00ff00"/>
<rect x="996" y="651" width="3" height="12" fill="#00ff00"/>
<rect x="1012" y="659" width="3" height="4" fill="#00ff00"/>
<rect x="1028" y="663" width="3" height="5" fill="#00ff00"/>
<rect x="1044" y="663" width="3" height="13" fill="#00ff00"/>
<rect x="1060" y="663" width="3" height="19" fill="#00ff00"/>
<rect x="1076" y="663" width="3" height="24" fill="#00ff00"/>
<rect x="1092" y="663" width="3" height="26" fill="#00ff00"/>
<rect x="1108" y="663" width="3" height="29" fill="#00ff00"/>
<rect x="1124" y="663" width="3" height="32" fill="#00ff00"/>
<rect x="1140" y="663" width="3" height="33" fill="#00ff00"/>
<rect x="1156" y="663" width="3" height="35" fill="#00ff00"/>
<rect x="1172" y="663" width="3" height="37" fill="#00ff00"/>
<rect x="1188" y="663" width="3" height="38" fill="#00ff00"/>
<rect x="1204" y="663" width="3" height="36" fill="#00ff00"/>
<rect x="1220" y="663" width="3" height="37" fill="#00ff00"/>
<rect x="1236" y="663" width="3" height="36" fill="#00ff00"/>
<rect x="1252" y="663" width="3" height="35" fill="#00ff00"/>
<polyline points="5.5,699.0 21.5,700.0 37.5,702.2 53.5,704.3 69.5,705.5 85.5,707.5 101.5,709.5 117.5,711.4 133.5,712.4 149.5,714.4 165.5,715.5 181.5,715.7 197.5,715.8 213.5,715.4 229.5,714.5 245.5,712.4 261.5,711.5 277.5,710.5 293.5,709.5 309.5,708.6 325.5,707.7 341.5,705.6 357.5,704.5 373.5,702.5 389.5,699.5 405.5,697.5 421.5,694.6 437.5,691.5 453.5,689.5 469.5,686.5 485.5,684.5 501.5,683.5 517.5,682.9 533.5,682.9 549.5,683.5 565.5,684.5 581.5,685.5 597.5,687.5 613.5,689.0 629.5,688.8 645.5,688.8 661.5,688.8 677.5,687.5 693.5,684.8 709.5,680.0 725.5,675.5 741.5,668.5 757.5,663.4 773.5,657.7 789.5,652.0 805.5,648.0 821.5,643.9 837.5,639.4 853.5,637.4 869.5,634.9 885.5,633.5 901.5,633.0 917.5,633.4 933.5,634.4 949.5,635.4 965.5,636.4 981.5,638.4 997.5,640.1 1013.5,643.6 1029.5,647.9 1045.5,652.6 1061.5,657.3 1077.5,662.5 1093.5,667.0 1109.5,672.5 1125.5,677.6 1141.5,682.7 1157.5,686.5 1173.5,690.7 1189.5,692.4 1205.5,694.7 1221.5,695.5 1237.5,697.0 1253.5,697.0" fill="none" stroke="#ff0000" stroke-width="2"/>
</g>
<rect x="4" y="624" width="1" height="99" fill="#000"/>
<text x="9" y="637" style="font-family:'DejaVu Sans Condensed','Liberation Sans',sans-serif;font-size:9px" fill="#000" textLength="144" lengthAdjust="spacingAndGlyphs">MACD(12,26,9) -32.5231 -32.5378</text>
<rect x="1603" y="626" width="1" height="1" fill="#000"/>
<text x="1606" y="635" style="font-family:'DejaVu Sans Condensed','Liberation Sans',sans-serif;font-size:9px" fill="#000">36.1889</text>
<rect x="1603" y="663" width="1" height="1" fill="#000"/>
<text x="1606" y="667" style="font-family:'DejaVu Sans Condensed','Liberation Sans',sans-serif;font-size:9px" fill="#000">0.00</text>
<rect x="1603" y="721" width="1" height="1" fill="#000"/>
<text x="1606" y="719" style="font-family:'DejaVu Sans Condensed','Liberation Sans',sans-serif;font-size:9px" fill="#000">-55.6855</text>
<rect x="4" y="724" width="1599" height="1" fill="#000"/>
<rect x="4" y="800" width="1599" height="1" fill="#000"/>
<rect x="4" y="724" width="1" height="77" fill="#000"/>
<rect x="1602" y="724" width="1" height="77" fill="#000"/>
<rect x="6" y="740" width="3" height="1" fill="#000"/>
<rect x="12" y="740" width="3" height="1" fill="#000"/>
<rect x="18" y="740" width="3" height="1" fill="#000"/>
<rect x="24" y="740" width="3" height="1" fill="#000"/>
<rect x="30" y="740" width="3" height="1" fill="#000"/>
<rect x="36" y="740" width="3" height="1" fill="#000"/>
<rect x="42" y="740" width="3" height="1" fill="#000"/>
<rect x="48" y="740" width="3" height="1" fill="#000"/>
<rect x="54" y="740" width="3" height="1" fill="#000"/>
<rect x="60" y="740" width="3" height="1" fill="#000"/>
<rect x="66" y="740" width="3" height="1" fill="#000"/>
<rect x="72" y="740" width="3" height="1" fill="#000"/>
<rect x="78" y="740" width="3" height="1" fill="#000"/>
<rect x="84" y="740" width="3" height="1" fill="#000"/>
<rect x="90" y="740" width="3" height="1" fill="#000"/>
<rect x="96" y="740" width="3" height="1" fill="#000"/>
<rect x="102" y="740" width="3" height="1" fill="#000"/>
<rect x="108" y="740" width="3" height="1" fill="#000"/>
<rect x="114" y="740" width="3" height="1" fill="#000"/>
<rect x="120" y="740" width="3" height="1" fill="#000"/>
<rect x="126" y="740" width="3" height="1" fill="#000"/>
<rect x="132" y="740" width="3" height="1" fill="#000"/>
<rect x="138" y="740" width="3" height="1" fill="#000"/>
<rect x="144" y="740" width="3" height="1" fill="#000"/>
<rect x="150" y="740" width="3" height="1" fill="#000"/>
<rect x="156" y="740" width="3" height="1" fill="#000"/>
<rect x="162" y="740" width="3" height="1" fill="#000"/>
<rect x="168" y="740" width="3" height="1" fill="#000"/>
<rect x="174" y="740" width="3" height="1" fill="#000"/>
<rect x="180" y="740" width="3" height="1" fill="#000"/>
<rect x="186" y="740" width="3" height="1" fill="#000"/>
<rect x="192" y="740" width="3" height="1" fill="#000"/>
<rect x="198" y="740" width="3" height="1" fill="#000"/>
<rect x="204" y="740" width="3" height="1" fill="#000"/>
<rect x="210" y="740" width="3" height="1" fill="#000"/>
<rect x="216" y="740" width="3" height="1" fill="#000"/>
<rect x="222" y="740" width="3" height="1" fill="#000"/>
<rect x="228" y="740" width="3" height="1" fill="#000"/>
<rect x="234" y="740" width="3" height="1" fill="#000"/>
<rect x="240" y="740" width="3" height="1" fill="#000"/>
<rect x="246" y="740" width="3" height="1" fill="#000"/>
<rect x="252" y="740" width="3" height="1" fill="#000"/>
<rect x="258" y="740" width="3" height="1" fill="#000"/>
<rect x="264" y="740" width="3" height="1" fill="#000"/>
<rect x="270" y="740" width="3" height="1" fill="#000"/>
<rect x="276" y="740" width="3" height="1" fill="#000"/>
<rect x="282" y="740" width="3" height="1" fill="#000"/>
<rect x="288" y="740" width="3" height="1" fill="#000"/>
<rect x="294" y="740" width="3" height="1" fill="#000"/>
<rect x="300" y="740" width="3" height="1" fill="#000"/>
<rect x="306" y="740" width="3" height="1" fill="#000"/>
<rect x="312" y="740" width="3" height="1" fill="#000"/>
<rect x="318" y="740" width="3" height="1" fill="#000"/>
<rect x="324" y="740" width="3" height="1" fill="#000"/>
<rect x="330" y="740" width="3" height="1" fill="#000"/>
<rect x="336" y="740" width="3" height="1" fill="#000"/>
<rect x="342" y="740" width="3" height="1" fill="#000"/>
<rect x="348" y="740" width="3" height="1" fill="#000"/>
<rect x="354" y="740" width="3" height="1" fill="#000"/>
<rect x="360" y="740" width="3" height="1" fill="#000"/>
<rect x="366" y="740" width="3" height="1" fill="#000"/>
<rect x="372" y="740" width="3" height="1" fill="#000"/>
<rect x="378" y="740" width="3" height="1" fill="#000"/>
<rect x="384" y="740" width="3" height="1" fill="#000"/>
<rect x="390" y="740" width="3" height="1" fill="#000"/>
<rect x="396" y="740" width="3" height="1" fill="#000"/>
<rect x="402" y="740" width="3" height="1" fill="#000"/>
<rect x="408" y="740" width="3" height="1" fill="#000"/>
<rect x="414" y="740" width="3" height="1" fill="#000"/>
<rect x="420" y="740" width="3" height="1" fill="#000"/>
<rect x="426" y="740" width="3" height="1" fill="#000"/>
<rect x="432" y="740" width="3" height="1" fill="#000"/>
<rect x="438" y="740" width="3" height="1" fill="#000"/>
<rect x="444" y="740" width="3" height="1" fill="#000"/>
<rect x="450" y="740" width="3" height="1" fill="#000"/>
<rect x="456" y="740" width="3" height="1" fill="#000"/>
<rect x="462" y="740" width="3" height="1" fill="#000"/>
<rect x="468" y="740" width="3" height="1" fill="#000"/>
<rect x="474" y="740" width="3" height="1" fill="#000"/>
<rect x="480" y="740" width="3" height="1" fill="#000"/>
<rect x="486" y="740" width="3" height="1" fill="#000"/>
<rect x="492" y="740" width="3" height="1" fill="#000"/>
<rect x="498" y="740" width="3" height="1" fill="#000"/>
<rect x="504" y="740" width="3" height="1" fill="#000"/>
<rect x="510" y="740" width="3" height="1" fill="#000"/>
<rect x="516" y="740" width="3" height="1" fill="#000"/>
<rect x="522" y="740" width="3" height="1" fill="#000"/>
<rect x="528" y="740" width="3" height="1" fill="#000"/>
<rect x="534" y="740" width="3" height="1" fill="#000"/>
<rect x="540" y="740" width="3" height="1" fill="#000"/>
<rect x="546" y="740" width="3" height="1" fill="#000"/>
<rect x="552" y="740" width="3" height="1" fill="#000"/>
<rect x="558" y="740" width="3" height="1" fill="#000"/>
<rect x="564" y="740" width="3" height="1" fill="#000"/>
<rect x="570" y="740" width="3" height="1" fill="#000"/>
<rect x="576" y="740" width="3" height="1" fill="#000"/>
<rect x="582" y="740" width="3" height="1" fill="#000"/>
<rect x="588" y="740" width="3" height="1" fill="#000"/>
<rect x="594" y="740" width="3" height="1" fill="#000"/>
<rect x="600" y="740" width="3" height="1" fill="#000"/>
<rect x="606" y="740" width="3" height="1" fill="#000"/>
<rect x="612" y="740" width="3" height="1" fill="#000"/>
<rect x="618" y="740" width="3" height="1" fill="#000"/>
<rect x="624" y="740" width="3" height="1" fill="#000"/>
<rect x="630" y="740" width="3" height="1" fill="#000"/>
<rect x="636" y="740" width="3" height="1" fill="#000"/>
<rect x="642" y="740" width="3" height="1" fill="#000"/>
<rect x="648" y="740" width="3" height="1" fill="#000"/>
<rect x="654" y="740" width="3" height="1" fill="#000"/>
<rect x="660" y="740" width="3" height="1" fill="#000"/>
<rect x="666" y="740" width="3" height="1" fill="#000"/>
<rect x="672" y="740" width="3" height="1" fill="#000"/>
<rect x="678" y="740" width="3" height="1" fill="#000"/>
<rect x="684" y="740" width="3" height="1" fill="#000"/>
<rect x="690" y="740" width="3" height="1" fill="#000"/>
<rect x="696" y="740" width="3" height="1" fill="#000"/>
<rect x="702" y="740" width="3" height="1" fill="#000"/>
<rect x="708" y="740" width="3" height="1" fill="#000"/>
<rect x="714" y="740" width="3" height="1" fill="#000"/>
<rect x="720" y="740" width="3" height="1" fill="#000"/>
<rect x="726" y="740" width="3" height="1" fill="#000"/>
<rect x="732" y="740" width="3" height="1" fill="#000"/>
<rect x="738" y="740" width="3" height="1" fill="#000"/>
<rect x="744" y="740" width="3" height="1" fill="#000"/>
<rect x="750" y="740" width="3" height="1" fill="#000"/>
<rect x="756" y="740" width="3" height="1" fill="#000"/>
<rect x="762" y="740" width="3" height="1" fill="#000"/>
<rect x="768" y="740" width="3" height="1" fill="#000"/>
<rect x="774" y="740" width="3" height="1" fill="#000"/>
<rect x="780" y="740" width="3" height="1" fill="#000"/>
<rect x="786" y="740" width="3" height="1" fill="#000"/>
<rect x="792" y="740" width="3" height="1" fill="#000"/>
<rect x="798" y="740" width="3" height="1" fill="#000"/>
<rect x="804" y="740" width="3" height="1" fill="#000"/>
<rect x="810" y="740" width="3" height="1" fill="#000"/>
<rect x="816" y="740" width="3" height="1" fill="#000"/>
<rect x="822" y="740" width="3" height="1" fill="#000"/>
<rect x="828" y="740" width="3" height="1" fill="#000"/>
<rect x="834" y="740" width="3" height="1" fill="#000"/>
<rect x="840" y="740" width="3" height="1" fill="#000"/>
<rect x="846" y="740" width="3" height="1" fill="#000"/>
<rect x="852" y="740" width="3" height="1" fill="#000"/>
<rect x="858" y="740" width="3" height="1" fill="#000"/>
<rect x="864" y="740" width="3" height="1" fill="#000"/>
<rect x="870" y="740" width="3" height="1" fill="#000"/>
<rect x="876" y="740" width="3" height="1" fill="#000"/>
<rect x="882" y="740" width="3" height="1" fill="#000"/>
<rect x="888" y="740" width="3" height="1" fill="#000"/>
<rect x="894" y="740" width="3" height="1" fill="#000"/>
<rect x="900" y="740" width="3" height="1" fill="#000"/>
<rect x="906" y="740" width="3" height="1" fill="#000"/>
<rect x="912" y="740" width="3" height="1" fill="#000"/>
<rect x="918" y="740" width="3" height="1" fill="#000"/>
<rect x="924" y="740" width="3" height="1" fill="#000"/>
<rect x="930" y="740" width="3" height="1" fill="#000"/>
<rect x="936" y="740" width="3" height="1" fill="#000"/>
<rect x="942" y="740" width="3" height="1" fill="#000"/>
<rect x="948" y="740" width="3" height="1" fill="#000"/>
<rect x="954" y="740" width="3" height="1" fill="#000"/>
<rect x="960" y="740" width="3" height="1" fill="#000"/>
<rect x="966" y="740" width="3" height="1" fill="#000"/>
<rect x="972" y="740" width="3" height="1" fill="#000"/>
<rect x="978" y="740" width="3" height="1" fill="#000"/>
<rect x="984" y="740" width="3" height="1" fill="#000"/>
<rect x="990" y="740" width="3" height="1" fill="#000"/>
<rect x="996" y="740" width="3" height="1" fill="#000"/>
<rect x="1002" y="740" width="3" height="1" fill="#000"/>
<rect x="1008" y="740" width="3" height="1" fill="#000"/>
<rect x="1014" y="740" width="3" height="1" fill="#000"/>
<rect x="1020" y="740" width="3" height="1" fill="#000"/>
<rect x="1026" y="740" width="3" height="1" fill="#000"/>
<rect x="1032" y="740" width="3" height="1" fill="#000"/>
<rect x="1038" y="740" width="3" height="1" fill="#000"/>
<rect x="1044" y="740" width="3" height="1" fill="#000"/>
<rect x="1050" y="740" width="3" height="1" fill="#000"/>
<rect x="1056" y="740" width="3" height="1" fill="#000"/>
<rect x="1062" y="740" width="3" height="1" fill="#000"/>
<rect x="1068" y="740" width="3" height="1" fill="#000"/>
<rect x="1074" y="740" width="3" height="1" fill="#000"/>
<rect x="1080" y="740" width="3" height="1" fill="#000"/>
<rect x="1086" y="740" width="3" height="1" fill="#000"/>
<rect x="1092" y="740" width="3" height="1" fill="#000"/>
<rect x="1098" y="740" width="3" height="1" fill="#000"/>
<rect x="1104" y="740" width="3" height="1" fill="#000"/>
<rect x="1110" y="740" width="3" height="1" fill="#000"/>
<rect x="1116" y="740" width="3" height="1" fill="#000"/>
<rect x="1122" y="740" width="3" height="1" fill="#000"/>
<rect x="1128" y="740" width="3" height="1" fill="#000"/>
<rect x="1134" y="740" width="3" height="1" fill="#000"/>
<rect x="1140" y="740" width="3" height="1" fill="#000"/>
<rect x="1146" y="740" width="3" height="1" fill="#000"/>
<rect x="1152" y="740" width="3" height="1" fill="#000"/>
<rect x="1158" y="740" width="3" height="1" fill="#000"/>
<rect x="1164" y="740" width="3" height="1" fill="#000"/>
<rect x="1170" y="740" width="3" height="1" fill="#000"/>
<rect x="1176" y="740" width="3" height="1" fill="#000"/>
<rect x="1182" y="740" width="3" height="1" fill="#000"/>
<rect x="1188" y="740" width="3" height="1" fill="#000"/>
<rect x="1194" y="740" width="3" height="1" fill="#000"/>
<rect x="1200" y="740" width="3" height="1" fill="#000"/>
<rect x="1206" y="740" width="3" height="1" fill="#000"/>
<rect x="1212" y="740" width="3" height="1" fill="#000"/>
<rect x="1218" y="740" width="3" height="1" fill="#000"/>
<rect x="1224" y="740" width="3" height="1" fill="#000"/>
<rect x="1230" y="740" width="3" height="1" fill="#000"/>
<rect x="1236" y="740" width="3" height="1" fill="#000"/>
<rect x="1242" y="740" width="3" height="1" fill="#000"/>
<rect x="1248" y="740" width="3" height="1" fill="#000"/>
<rect x="1254" y="740" width="3" height="1" fill="#000"/>
<rect x="1260" y="740" width="3" height="1" fill="#000"/>
<rect x="1266" y="740" width="3" height="1" fill="#000"/>
<rect x="1272" y="740" width="3" height="1" fill="#000"/>
<rect x="1278" y="740" width="3" height="1" fill="#000"/>
<rect x="1284" y="740" width="3" height="1" fill="#000"/>
<rect x="1290" y="740" width="3" height="1" fill="#000"/>
<rect x="1296" y="740" width="3" height="1" fill="#000"/>
<rect x="1302" y="740" width="3" height="1" fill="#000"/>
<rect x="1308" y="740" width="3" height="1" fill="#000"/>
<rect x="1314" y="740" width="3" height="1" fill="#000"/>
<rect x="1320" y="740" width="3" height="1" fill="#000"/>
<rect x="1326" y="740" width="3" height="1" fill="#000"/>
<rect x="1332" y="740" width="3" height="1" fill="#000"/>
<rect x="1338" y="740" width="3" height="1" fill="#000"/>
<rect x="1344" y="740" width="3" height="1" fill="#000"/>
<rect x="1350" y="740" width="3" height="1" fill="#000"/>
<rect x="1356" y="740" width="3" height="1" fill="#000"/>
<rect x="1362" y="740" width="3" height="1" fill="#000"/>
<rect x="1368" y="740" width="3" height="1" fill="#000"/>
<rect x="1374" y="740" width="3" height="1" fill="#000"/>
<rect x="1380" y="740" width="3" height="1" fill="#000"/>
<rect x="1386" y="740" width="3" height="1" fill="#000"/>
<rect x="1392" y="740" width="3" height="1" fill="#000"/>
<rect x="1398" y="740" width="3" height="1" fill="#000"/>
<rect x="1404" y="740" width="3" height="1" fill="#000"/>
<rect x="1410" y="740" width="3" height="1" fill="#000"/>
<rect x="1416" y="740" width="3" height="1" fill="#000"/>
<rect x="1422" y="740" width="3" height="1" fill="#000"/>
<rect x="1428" y="740" width="3" height="1" fill="#000"/>
<rect x="1434" y="740" width="3" height="1" fill="#000"/>
<rect x="1440" y="740" width="3" height="1" fill="#000"/>
<rect x="1446" y="740" width="3" height="1" fill="#000"/>
<rect x="1452" y="740" width="3" height="1" fill="#000"/>
<rect x="1458" y="740" width="3" height="1" fill="#000"/>
<rect x="1464" y="740" width="3" height="1" fill="#000"/>
<rect x="1470" y="740" width="3" height="1" fill="#000"/>
<rect x="1476" y="740" width="3" height="1" fill="#000"/>
<rect x="1482" y="740" width="3" height="1" fill="#000"/>
<rect x="1488" y="740" width="3" height="1" fill="#000"/>
<rect x="1494" y="740" width="3" height="1" fill="#000"/>
<rect x="1500" y="740" width="3" height="1" fill="#000"/>
<rect x="1506" y="740" width="3" height="1" fill="#000"/>
<rect x="1512" y="740" width="3" height="1" fill="#000"/>
<rect x="1518" y="740" width="3" height="1" fill="#000"/>
<rect x="1524" y="740" width="3" height="1" fill="#000"/>
<rect x="1530" y="740" width="3" height="1" fill="#000"/>
<rect x="1536" y="740" width="3" height="1" fill="#000"/>
<rect x="1542" y="740" width="3" height="1" fill="#000"/>
<rect x="1548" y="740" width="3" height="1" fill="#000"/>
<rect x="1554" y="740" width="3" height="1" fill="#000"/>
<rect x="1560" y="740" width="3" height="1" fill="#000"/>
<rect x="1566" y="740" width="3" height="1" fill="#000"/>
<rect x="1572" y="740" width="3" height="1" fill="#000"/>
<rect x="1578" y="740" width="3" height="1" fill="#000"/>
<rect x="1584" y="740" width="3" height="1" fill="#000"/>
<rect x="1590" y="740" width="3" height="1" fill="#000"/>
<rect x="1596" y="740" width="3" height="1" fill="#000"/>
<rect x="6" y="762" width="3" height="1" fill="#000"/>
<rect x="12" y="762" width="3" height="1" fill="#000"/>
<rect x="18" y="762" width="3" height="1" fill="#000"/>
<rect x="24" y="762" width="3" height="1" fill="#000"/>
<rect x="30" y="762" width="3" height="1" fill="#000"/>
<rect x="36" y="762" width="3" height="1" fill="#000"/>
<rect x="42" y="762" width="3" height="1" fill="#000"/>
<rect x="48" y="762" width="3" height="1" fill="#000"/>
<rect x="54" y="762" width="3" height="1" fill="#000"/>
<rect x="60" y="762" width="3" height="1" fill="#000"/>
<rect x="66" y="762" width="3" height="1" fill="#000"/>
<rect x="72" y="762" width="3" height="1" fill="#000"/>
<rect x="78" y="762" width="3" height="1" fill="#000"/>
<rect x="84" y="762" width="3" height="1" fill="#000"/>
<rect x="90" y="762" width="3" height="1" fill="#000"/>
<rect x="96" y="762" width="3" height="1" fill="#000"/>
<rect x="102" y="762" width="3" height="1" fill="#000"/>
<rect x="108" y="762" width="3" height="1" fill="#000"/>
<rect x="114" y="762" width="3" height="1" fill="#000"/>
<rect x="120" y="762" width="3" height="1" fill="#000"/>
<rect x="126" y="762" width="3" height="1" fill="#000"/>
<rect x="132" y="762" width="3" height="1" fill="#000"/>
<rect x="138" y="762" width="3" height="1" fill="#000"/>
<rect x="144" y="762" width="3" height="1" fill="#000"/>
<rect x="150" y="762" width="3" height="1" fill="#000"/>
<rect x="156" y="762" width="3" height="1" fill="#000"/>
<rect x="162" y="762" width="3" height="1" fill="#000"/>
<rect x="168" y="762" width="3" height="1" fill="#000"/>
<rect x="174" y="762" width="3" height="1" fill="#000"/>
<rect x="180" y="762" width="3" height="1" fill="#000"/>
<rect x="186" y="762" width="3" height="1" fill="#000"/>
<rect x="192" y="762" width="3" height="1" fill="#000"/>
<rect x="198" y="762" width="3" height="1" fill="#000"/>
<rect x="204" y="762" width="3" height="1" fill="#000"/>
<rect x="210" y="762" width="3" height="1" fill="#000"/>
<rect x="216" y="762" width="3" height="1" fill="#000"/>
<rect x="222" y="762" width="3" height="1" fill="#000"/>
<rect x="228" y="762" width="3" height="1" fill="#000"/>
<rect x="234" y="762" width="3" height="1" fill="#000"/>
<rect x="240" y="762" width="3" height="1" fill="#000"/>
<rect x="246" y="762" width="3" height="1" fill="#000"/>
<rect x="252" y="762" width="3" height="1" fill="#000"/>
<rect x="258" y="762" width="3" height="1" fill="#000"/>
<rect x="264" y="762" width="3" height="1" fill="#000"/>
<rect x="270" y="762" width="3" height="1" fill="#000"/>
<rect x="276" y="762" width="3" height="1" fill="#000"/>
<rect x="282" y="762" width="3" height="1" fill="#000"/>
<rect x="288" y="762" width="3" height="1" fill="#000"/>
<rect x="294" y="762" width="3" height="1" fill="#000"/>
<rect x="300" y="762" width="3" height="1" fill="#000"/>
<rect x="306" y="762" width="3" height="1" fill="#000"/>
<rect x="312" y="762" width="3" height="1" fill="#000"/>
<rect x="318" y="762" width="3" height="1" fill="#000"/>
<rect x="324" y="762" width="3" height="1" fill="#000"/>
<rect x="330" y="762" width="3" height="1" fill="#000"/>
<rect x="336" y="762" width="3" height="1" fill="#000"/>
<rect x="342" y="762" width="3" height="1" fill="#000"/>
<rect x="348" y="762" width="3" height="1" fill="#000"/>
<rect x="354" y="762" width="3" height="1" fill="#000"/>
<rect x="360" y="762" width="3" height="1" fill="#000"/>
<rect x="366" y="762" width="3" height="1" fill="#000"/>
<rect x="372" y="762" width="3" height="1" fill="#000"/>
<rect x="378" y="762" width="3" height="1" fill="#000"/>
<rect x="384" y="762" width="3" height="1" fill="#000"/>
<rect x="390" y="762" width="3" height="1" fill="#000"/>
<rect x="396" y="762" width="3" height="1" fill="#000"/>
<rect x="402" y="762" width="3" height="1" fill="#000"/>
<rect x="408" y="762" width="3" height="1" fill="#000"/>
<rect x="414" y="762" width="3" height="1" fill="#000"/>
<rect x="420" y="762" width="3" height="1" fill="#000"/>
<rect x="426" y="762" width="3" height="1" fill="#000"/>
<rect x="432" y="762" width="3" height="1" fill="#000"/>
<rect x="438" y="762" width="3" height="1" fill="#000"/>
<rect x="444" y="762" width="3" height="1" fill="#000"/>
<rect x="450" y="762" width="3" height="1" fill="#000"/>
<rect x="456" y="762" width="3" height="1" fill="#000"/>
<rect x="462" y="762" width="3" height="1" fill="#000"/>
<rect x="468" y="762" width="3" height="1" fill="#000"/>
<rect x="474" y="762" width="3" height="1" fill="#000"/>
<rect x="480" y="762" width="3" height="1" fill="#000"/>
<rect x="486" y="762" width="3" height="1" fill="#000"/>
<rect x="492" y="762" width="3" height="1" fill="#000"/>
<rect x="498" y="762" width="3" height="1" fill="#000"/>
<rect x="504" y="762" width="3" height="1" fill="#000"/>
<rect x="510" y="762" width="3" height="1" fill="#000"/>
<rect x="516" y="762" width="3" height="1" fill="#000"/>
<rect x="522" y="762" width="3" height="1" fill="#000"/>
<rect x="528" y="762" width="3" height="1" fill="#000"/>
<rect x="534" y="762" width="3" height="1" fill="#000"/>
<rect x="540" y="762" width="3" height="1" fill="#000"/>
<rect x="546" y="762" width="3" height="1" fill="#000"/>
<rect x="552" y="762" width="3" height="1" fill="#000"/>
<rect x="558" y="762" width="3" height="1" fill="#000"/>
<rect x="564" y="762" width="3" height="1" fill="#000"/>
<rect x="570" y="762" width="3" height="1" fill="#000"/>
<rect x="576" y="762" width="3" height="1" fill="#000"/>
<rect x="582" y="762" width="3" height="1" fill="#000"/>
<rect x="588" y="762" width="3" height="1" fill="#000"/>
<rect x="594" y="762" width="3" height="1" fill="#000"/>
<rect x="600" y="762" width="3" height="1" fill="#000"/>
<rect x="606" y="762" width="3" height="1" fill="#000"/>
<rect x="612" y="762" width="3" height="1" fill="#000"/>
<rect x="618" y="762" width="3" height="1" fill="#000"/>
<rect x="624" y="762" width="3" height="1" fill="#000"/>
<rect x="630" y="762" width="3" height="1" fill="#000"/>
<rect x="636" y="762" width="3" height="1" fill="#000"/>
<rect x="642" y="762" width="3" height="1" fill="#000"/>
<rect x="648" y="762" width="3" height="1" fill="#000"/>
<rect x="654" y="762" width="3" height="1" fill="#000"/>
<rect x="660" y="762" width="3" height="1" fill="#000"/>
<rect x="666" y="762" width="3" height="1" fill="#000"/>
<rect x="672" y="762" width="3" height="1" fill="#000"/>
<rect x="678" y="762" width="3" height="1" fill="#000"/>
<rect x="684" y="762" width="3" height="1" fill="#000"/>
<rect x="690" y="762" width="3" height="1" fill="#000"/>
<rect x="696" y="762" width="3" height="1" fill="#000"/>
<rect x="702" y="762" width="3" height="1" fill="#000"/>
<rect x="708" y="762" width="3" height="1" fill="#000"/>
<rect x="714" y="762" width="3" height="1" fill="#000"/>
<rect x="720" y="762" width="3" height="1" fill="#000"/>
<rect x="726" y="762" width="3" height="1" fill="#000"/>
<rect x="732" y="762" width="3" height="1" fill="#000"/>
<rect x="738" y="762" width="3" height="1" fill="#000"/>
<rect x="744" y="762" width="3" height="1" fill="#000"/>
<rect x="750" y="762" width="3" height="1" fill="#000"/>
<rect x="756" y="762" width="3" height="1" fill="#000"/>
<rect x="762" y="762" width="3" height="1" fill="#000"/>
<rect x="768" y="762" width="3" height="1" fill="#000"/>
<rect x="774" y="762" width="3" height="1" fill="#000"/>
<rect x="780" y="762" width="3" height="1" fill="#000"/>
<rect x="786" y="762" width="3" height="1" fill="#000"/>
<rect x="792" y="762" width="3" height="1" fill="#000"/>
<rect x="798" y="762" width="3" height="1" fill="#000"/>
<rect x="804" y="762" width="3" height="1" fill="#000"/>
<rect x="810" y="762" width="3" height="1" fill="#000"/>
<rect x="816" y="762" width="3" height="1" fill="#000"/>
<rect x="822" y="762" width="3" height="1" fill="#000"/>
<rect x="828" y="762" width="3" height="1" fill="#000"/>
<rect x="834" y="762" width="3" height="1" fill="#000"/>
<rect x="840" y="762" width="3" height="1" fill="#000"/>
<rect x="846" y="762" width="3" height="1" fill="#000"/>
<rect x="852" y="762" width="3" height="1" fill="#000"/>
<rect x="858" y="762" width="3" height="1" fill="#000"/>
<rect x="864" y="762" width="3" height="1" fill="#000"/>
<rect x="870" y="762" width="3" height="1" fill="#000"/>
<rect x="876" y="762" width="3" height="1" fill="#000"/>
<rect x="882" y="762" width="3" height="1" fill="#000"/>
<rect x="888" y="762" width="3" height="1" fill="#000"/>
<rect x="894" y="762" width="3" height="1" fill="#000"/>
<rect x="900" y="762" width="3" height="1" fill="#000"/>
<rect x="906" y="762" width="3" height="1" fill="#000"/>
<rect x="912" y="762" width="3" height="1" fill="#000"/>
<rect x="918" y="762" width="3" height="1" fill="#000"/>
<rect x="924" y="762" width="3" height="1" fill="#000"/>
<rect x="930" y="762" width="3" height="1" fill="#000"/>
<rect x="936" y="762" width="3" height="1" fill="#000"/>
<rect x="942" y="762" width="3" height="1" fill="#000"/>
<rect x="948" y="762" width="3" height="1" fill="#000"/>
<rect x="954" y="762" width="3" height="1" fill="#000"/>
<rect x="960" y="762" width="3" height="1" fill="#000"/>
<rect x="966" y="762" width="3" height="1" fill="#000"/>
<rect x="972" y="762" width="3" height="1" fill="#000"/>
<rect x="978" y="762" width="3" height="1" fill="#000"/>
<rect x="984" y="762" width="3" height="1" fill="#000"/>
<rect x="990" y="762" width="3" height="1" fill="#000"/>
<rect x="996" y="762" width="3" height="1" fill="#000"/>
<rect x="1002" y="762" width="3" height="1" fill="#000"/>
<rect x="1008" y="762" width="3" height="1" fill="#000"/>
<rect x="1014" y="762" width="3" height="1" fill="#000"/>
<rect x="1020" y="762" width="3" height="1" fill="#000"/>
<rect x="1026" y="762" width="3" height="1" fill="#000"/>
<rect x="1032" y="762" width="3" height="1" fill="#000"/>
<rect x="1038" y="762" width="3" height="1" fill="#000"/>
<rect x="1044" y="762" width="3" height="1" fill="#000"/>
<rect x="1050" y="762" width="3" height="1" fill="#000"/>
<rect x="1056" y="762" width="3" height="1" fill="#000"/>
<rect x="1062" y="762" width="3" height="1" fill="#000"/>
<rect x="1068" y="762" width="3" height="1" fill="#000"/>
<rect x="1074" y="762" width="3" height="1" fill="#000"/>
<rect x="1080" y="762" width="3" height="1" fill="#000"/>
<rect x="1086" y="762" width="3" height="1" fill="#000"/>
<rect x="1092" y="762" width="3" height="1" fill="#000"/>
<rect x="1098" y="762" width="3" height="1" fill="#000"/>
<rect x="1104" y="762" width="3" height="1" fill="#000"/>
<rect x="1110" y="762" width="3" height="1" fill="#000"/>
<rect x="1116" y="762" width="3" height="1" fill="#000"/>
<rect x="1122" y="762" width="3" height="1" fill="#000"/>
<rect x="1128" y="762" width="3" height="1" fill="#000"/>
<rect x="1134" y="762" width="3" height="1" fill="#000"/>
<rect x="1140" y="762" width="3" height="1" fill="#000"/>
<rect x="1146" y="762" width="3" height="1" fill="#000"/>
<rect x="1152" y="762" width="3" height="1" fill="#000"/>
<rect x="1158" y="762" width="3" height="1" fill="#000"/>
<rect x="1164" y="762" width="3" height="1" fill="#000"/>
<rect x="1170" y="762" width="3" height="1" fill="#000"/>
<rect x="1176" y="762" width="3" height="1" fill="#000"/>
<rect x="1182" y="762" width="3" height="1" fill="#000"/>
<rect x="1188" y="762" width="3" height="1" fill="#000"/>
<rect x="1194" y="762" width="3" height="1" fill="#000"/>
<rect x="1200" y="762" width="3" height="1" fill="#000"/>
<rect x="1206" y="762" width="3" height="1" fill="#000"/>
<rect x="1212" y="762" width="3" height="1" fill="#000"/>
<rect x="1218" y="762" width="3" height="1" fill="#000"/>
<rect x="1224" y="762" width="3" height="1" fill="#000"/>
<rect x="1230" y="762" width="3" height="1" fill="#000"/>
<rect x="1236" y="762" width="3" height="1" fill="#000"/>
<rect x="1242" y="762" width="3" height="1" fill="#000"/>
<rect x="1248" y="762" width="3" height="1" fill="#000"/>
<rect x="1254" y="762" width="3" height="1" fill="#000"/>
<rect x="1260" y="762" width="3" height="1" fill="#000"/>
<rect x="1266" y="762" width="3" height="1" fill="#000"/>
<rect x="1272" y="762" width="3" height="1" fill="#000"/>
<rect x="1278" y="762" width="3" height="1" fill="#000"/>
<rect x="1284" y="762" width="3" height="1" fill="#000"/>
<rect x="1290" y="762" width="3" height="1" fill="#000"/>
<rect x="1296" y="762" width="3" height="1" fill="#000"/>
<rect x="1302" y="762" width="3" height="1" fill="#000"/>
<rect x="1308" y="762" width="3" height="1" fill="#000"/>
<rect x="1314" y="762" width="3" height="1" fill="#000"/>
<rect x="1320" y="762" width="3" height="1" fill="#000"/>
<rect x="1326" y="762" width="3" height="1" fill="#000"/>
<rect x="1332" y="762" width="3" height="1" fill="#000"/>
<rect x="1338" y="762" width="3" height="1" fill="#000"/>
<rect x="1344" y="762" width="3" height="1" fill="#000"/>
<rect x="1350" y="762" width="3" height="1" fill="#000"/>
<rect x="1356" y="762" width="3" height="1" fill="#000"/>
<rect x="1362" y="762" width="3" height="1" fill="#000"/>
<rect x="1368" y="762" width="3" height="1" fill="#000"/>
<rect x="1374" y="762" width="3" height="1" fill="#000"/>
<rect x="1380" y="762" width="3" height="1" fill="#000"/>
<rect x="1386" y="762" width="3" height="1" fill="#000"/>
<rect x="1392" y="762" width="3" height="1" fill="#000"/>
<rect x="1398" y="762" width="3" height="1" fill="#000"/>
<rect x="1404" y="762" width="3" height="1" fill="#000"/>
<rect x="1410" y="762" width="3" height="1" fill="#000"/>
<rect x="1416" y="762" width="3" height="1" fill="#000"/>
<rect x="1422" y="762" width="3" height="1" fill="#000"/>
<rect x="1428" y="762" width="3" height="1" fill="#000"/>
<rect x="1434" y="762" width="3" height="1" fill="#000"/>
<rect x="1440" y="762" width="3" height="1" fill="#000"/>
<rect x="1446" y="762" width="3" height="1" fill="#000"/>
<rect x="1452" y="762" width="3" height="1" fill="#000"/>
<rect x="1458" y="762" width="3" height="1" fill="#000"/>
<rect x="1464" y="762" width="3" height="1" fill="#000"/>
<rect x="1470" y="762" width="3" height="1" fill="#000"/>
<rect x="1476" y="762" width="3" height="1" fill="#000"/>
<rect x="1482" y="762" width="3" height="1" fill="#000"/>
<rect x="1488" y="762" width="3" height="1" fill="#000"/>
<rect x="1494" y="762" width="3" height="1" fill="#000"/>
<rect x="1500" y="762" width="3" height="1" fill="#000"/>
<rect x="1506" y="762" width="3" height="1" fill="#000"/>
<rect x="1512" y="762" width="3" height="1" fill="#000"/>
<rect x="1518" y="762" width="3" height="1" fill="#000"/>
<rect x="1524" y="762" width="3" height="1" fill="#000"/>
<rect x="1530" y="762" width="3" height="1" fill="#000"/>
<rect x="1536" y="762" width="3" height="1" fill="#000"/>
<rect x="1542" y="762" width="3" height="1" fill="#000"/>
<rect x="1548" y="762" width="3" height="1" fill="#000"/>
<rect x="1554" y="762" width="3" height="1" fill="#000"/>
<rect x="1560" y="762" width="3" height="1" fill="#000"/>
<rect x="1566" y="762" width="3" height="1" fill="#000"/>
<rect x="1572" y="762" width="3" height="1" fill="#000"/>
<rect x="1578" y="762" width="3" height="1" fill="#000"/>
<rect x="1584" y="762" width="3" height="1" fill="#000"/>
<rect x="1590" y="762" width="3" height="1" fill="#000"/>
<rect x="1596" y="762" width="3" height="1" fill="#000"/>
<rect x="6" y="788" width="3" height="1" fill="#000"/>
<rect x="12" y="788" width="3" height="1" fill="#000"/>
<rect x="18" y="788" width="3" height="1" fill="#000"/>
<rect x="24" y="788" width="3" height="1" fill="#000"/>
<rect x="30" y="788" width="3" height="1" fill="#000"/>
<rect x="36" y="788" width="3" height="1" fill="#000"/>
<rect x="42" y="788" width="3" height="1" fill="#000"/>
<rect x="48" y="788" width="3" height="1" fill="#000"/>
<rect x="54" y="788" width="3" height="1" fill="#000"/>
<rect x="60" y="788" width="3" height="1" fill="#000"/>
<rect x="66" y="788" width="3" height="1" fill="#000"/>
<rect x="72" y="788" width="3" height="1" fill="#000"/>
<rect x="78" y="788" width="3" height="1" fill="#000"/>
<rect x="84" y="788" width="3" height="1" fill="#000"/>
<rect x="90" y="788" width="3" height="1" fill="#000"/>
<rect x="96" y="788" width="3" height="1" fill="#000"/>
<rect x="102" y="788" width="3" height="1" fill="#000"/>
<rect x="108" y="788" width="3" height="1" fill="#000"/>
<rect x="114" y="788" width="3" height="1" fill="#000"/>
<rect x="120" y="788" width="3" height="1" fill="#000"/>
<rect x="126" y="788" width="3" height="1" fill="#000"/>
<rect x="132" y="788" width="3" height="1" fill="#000"/>
<rect x="138" y="788" width="3" height="1" fill="#000"/>
<rect x="144" y="788" width="3" height="1" fill="#000"/>
<rect x="150" y="788" width="3" height="1" fill="#000"/>
<rect x="156" y="788" width="3" height="1" fill="#000"/>
<rect x="162" y="788" width="3" height="1" fill="#000"/>
<rect x="168" y="788" width="3" height="1" fill="#000"/>
<rect x="174" y="788" width="3" height="1" fill="#000"/>
<rect x="180" y="788" width="3" height="1" fill="#000"/>
<rect x="186" y="788" width="3" height="1" fill="#000"/>
<rect x="192" y="788" width="3" height="1" fill="#000"/>
<rect x="198" y="788" width="3" height="1" fill="#000"/>
<rect x="204" y="788" width="3" height="1" fill="#000"/>
<rect x="210" y="788" width="3" height="1" fill="#000"/>
<rect x="216" y="788" width="3" height="1" fill="#000"/>
<rect x="222" y="788" width="3" height="1" fill="#000"/>
<rect x="228" y="788" width="3" height="1" fill="#000"/>
<rect x="234" y="788" width="3" height="1" fill="#000"/>
<rect x="240" y="788" width="3" height="1" fill="#000"/>
<rect x="246" y="788" width="3" height="1" fill="#000"/>
<rect x="252" y="788" width="3" height="1" fill="#000"/>
<rect x="258" y="788" width="3" height="1" fill="#000"/>
<rect x="264" y="788" width="3" height="1" fill="#000"/>
<rect x="270" y="788" width="3" height="1" fill="#000"/>
<rect x="276" y="788" width="3" height="1" fill="#000"/>
<rect x="282" y="788" width="3" height="1" fill="#000"/>
<rect x="288" y="788" width="3" height="1" fill="#000"/>
<rect x="294" y="788" width="3" height="1" fill="#000"/>
<rect x="300" y="788" width="3" height="1" fill="#000"/>
<rect x="306" y="788" width="3" height="1" fill="#000"/>
<rect x="312" y="788" width="3" height="1" fill="#000"/>
<rect x="318" y="788" width="3" height="1" fill="#000"/>
<rect x="324" y="788" width="3" height="1" fill="#000"/>
<rect x="330" y="788" width="3" height="1" fill="#000"/>
<rect x="336" y="788" width="3" height="1" fill="#000"/>
<rect x="342" y="788" width="3" height="1" fill="#000"/>
<rect x="348" y="788" width="3" height="1" fill="#000"/>
<rect x="354" y="788" width="3" height="1" fill="#000"/>
<rect x="360" y="788" width="3" height="1" fill="#000"/>
<rect x="366" y="788" width="3" height="1" fill="#000"/>
<rect x="372" y="788" width="3" height="1" fill="#000"/>
<rect x="378" y="788" width="3" height="1" fill="#000"/>
<rect x="384" y="788" width="3" height="1" fill="#000"/>
<rect x="390" y="788" width="3" height="1" fill="#000"/>
<rect x="396" y="788" width="3" height="1" fill="#000"/>
<rect x="402" y="788" width="3" height="1" fill="#000"/>
<rect x="408" y="788" width="3" height="1" fill="#000"/>
<rect x="414" y="788" width="3" height="1" fill="#000"/>
<rect x="420" y="788" width="3" height="1" fill="#000"/>
<rect x="426" y="788" width="3" height="1" fill="#000"/>
<rect x="432" y="788" width="3" height="1" fill="#000"/>
<rect x="438" y="788" width="3" height="1" fill="#000"/>
<rect x="444" y="788" width="3" height="1" fill="#000"/>
<rect x="450" y="788" width="3" height="1" fill="#000"/>
<rect x="456" y="788" width="3" height="1" fill="#000"/>
<rect x="462" y="788" width="3" height="1" fill="#000"/>
<rect x="468" y="788" width="3" height="1" fill="#000"/>
<rect x="474" y="788" width="3" height="1" fill="#000"/>
<rect x="480" y="788" width="3" height="1" fill="#000"/>
<rect x="486" y="788" width="3" height="1" fill="#000"/>
<rect x="492" y="788" width="3" height="1" fill="#000"/>
<rect x="498" y="788" width="3" height="1" fill="#000"/>
<rect x="504" y="788" width="3" height="1" fill="#000"/>
<rect x="510" y="788" width="3" height="1" fill="#000"/>
<rect x="516" y="788" width="3" height="1" fill="#000"/>
<rect x="522" y="788" width="3" height="1" fill="#000"/>
<rect x="528" y="788" width="3" height="1" fill="#000"/>
<rect x="534" y="788" width="3" height="1" fill="#000"/>
<rect x="540" y="788" width="3" height="1" fill="#000"/>
<rect x="546" y="788" width="3" height="1" fill="#000"/>
<rect x="552" y="788" width="3" height="1" fill="#000"/>
<rect x="558" y="788" width="3" height="1" fill="#000"/>
<rect x="564" y="788" width="3" height="1" fill="#000"/>
<rect x="570" y="788" width="3" height="1" fill="#000"/>
<rect x="576" y="788" width="3" height="1" fill="#000"/>
<rect x="582" y="788" width="3" height="1" fill="#000"/>
<rect x="588" y="788" width="3" height="1" fill="#000"/>
<rect x="594" y="788" width="3" height="1" fill="#000"/>
<rect x="600" y="788" width="3" height="1" fill="#000"/>
<rect x="606" y="788" width="3" height="1" fill="#000"/>
<rect x="612" y="788" width="3" height="1" fill="#000"/>
<rect x="618" y="788" width="3" height="1" fill="#000"/>
<rect x="624" y="788" width="3" height="1" fill="#000"/>
<rect x="630" y="788" width="3" height="1" fill="#000"/>
<rect x="636" y="788" width="3" height="1" fill="#000"/>
<rect x="642" y="788" width="3" height="1" fill="#000"/>
<rect x="648" y="788" width="3" height="1" fill="#000"/>
<rect x="654" y="788" width="3" height="1" fill="#000"/>
<rect x="660" y="788" width="3" height="1" fill="#000"/>
<rect x="666" y="788" width="3" height="1" fill="#000"/>
<rect x="672" y="788" width="3" height="1" fill="#000"/>
<rect x="678" y="788" width="3" height="1" fill="#000"/>
<rect x="684" y="788" width="3" height="1" fill="#000"/>
<rect x="690" y="788" width="3" height="1" fill="#000"/>
<rect x="696" y="788" width="3" height="1" fill="#000"/>
<rect x="702" y="788" width="3" height="1" fill="#000"/>
<rect x="708" y="788" width="3" height="1" fill="#000"/>
<rect x="714" y="788" width="3" height="1" fill="#000"/>
<rect x="720" y="788" width="3" height="1" fill="#000"/>
<rect x="726" y="788" width="3" height="1" fill="#000"/>
<rect x="732" y="788" width="3" height="1" fill="#000"/>
<rect x="738" y="788" width="3" height="1" fill="#000"/>
<rect x="744" y="788" width="3" height="1" fill="#000"/>
<rect x="750" y="788" width="3" height="1" fill="#000"/>
<rect x="756" y="788" width="3" height="1" fill="#000"/>
<rect x="762" y="788" width="3" height="1" fill="#000"/>
<rect x="768" y="788" width="3" height="1" fill="#000"/>
<rect x="774" y="788" width="3" height="1" fill="#000"/>
<rect x="780" y="788" width="3" height="1" fill="#000"/>
<rect x="786" y="788" width="3" height="1" fill="#000"/>
<rect x="792" y="788" width="3" height="1" fill="#000"/>
<rect x="798" y="788" width="3" height="1" fill="#000"/>
<rect x="804" y="788" width="3" height="1" fill="#000"/>
<rect x="810" y="788" width="3" height="1" fill="#000"/>
<rect x="816" y="788" width="3" height="1" fill="#000"/>
<rect x="822" y="788" width="3" height="1" fill="#000"/>
<rect x="828" y="788" width="3" height="1" fill="#000"/>
<rect x="834" y="788" width="3" height="1" fill="#000"/>
<rect x="840" y="788" width="3" height="1" fill="#000"/>
<rect x="846" y="788" width="3" height="1" fill="#000"/>
<rect x="852" y="788" width="3" height="1" fill="#000"/>
<rect x="858" y="788" width="3" height="1" fill="#000"/>
<rect x="864" y="788" width="3" height="1" fill="#000"/>
<rect x="870" y="788" width="3" height="1" fill="#000"/>
<rect x="876" y="788" width="3" height="1" fill="#000"/>
<rect x="882" y="788" width="3" height="1" fill="#000"/>
<rect x="888" y="788" width="3" height="1" fill="#000"/>
<rect x="894" y="788" width="3" height="1" fill="#000"/>
<rect x="900" y="788" width="3" height="1" fill="#000"/>
<rect x="906" y="788" width="3" height="1" fill="#000"/>
<rect x="912" y="788" width="3" height="1" fill="#000"/>
<rect x="918" y="788" width="3" height="1" fill="#000"/>
<rect x="924" y="788" width="3" height="1" fill="#000"/>
<rect x="930" y="788" width="3" height="1" fill="#000"/>
<rect x="936" y="788" width="3" height="1" fill="#000"/>
<rect x="942" y="788" width="3" height="1" fill="#000"/>
<rect x="948" y="788" width="3" height="1" fill="#000"/>
<rect x="954" y="788" width="3" height="1" fill="#000"/>
<rect x="960" y="788" width="3" height="1" fill="#000"/>
<rect x="966" y="788" width="3" height="1" fill="#000"/>
<rect x="972" y="788" width="3" height="1" fill="#000"/>
<rect x="978" y="788" width="3" height="1" fill="#000"/>
<rect x="984" y="788" width="3" height="1" fill="#000"/>
<rect x="990" y="788" width="3" height="1" fill="#000"/>
<rect x="996" y="788" width="3" height="1" fill="#000"/>
<rect x="1002" y="788" width="3" height="1" fill="#000"/>
<rect x="1008" y="788" width="3" height="1" fill="#000"/>
<rect x="1014" y="788" width="3" height="1" fill="#000"/>
<rect x="1020" y="788" width="3" height="1" fill="#000"/>
<rect x="1026" y="788" width="3" height="1" fill="#000"/>
<rect x="1032" y="788" width="3" height="1" fill="#000"/>
<rect x="1038" y="788" width="3" height="1" fill="#000"/>
<rect x="1044" y="788" width="3" height="1" fill="#000"/>
<rect x="1050" y="788" width="3" height="1" fill="#000"/>
<rect x="1056" y="788" width="3" height="1" fill="#000"/>
<rect x="1062" y="788" width="3" height="1" fill="#000"/>
<rect x="1068" y="788" width="3" height="1" fill="#000"/>
<rect x="1074" y="788" width="3" height="1" fill="#000"/>
<rect x="1080" y="788" width="3" height="1" fill="#000"/>
<rect x="1086" y="788" width="3" height="1" fill="#000"/>
<rect x="1092" y="788" width="3" height="1" fill="#000"/>
<rect x="1098" y="788" width="3" height="1" fill="#000"/>
<rect x="1104" y="788" width="3" height="1" fill="#000"/>
<rect x="1110" y="788" width="3" height="1" fill="#000"/>
<rect x="1116" y="788" width="3" height="1" fill="#000"/>
<rect x="1122" y="788" width="3" height="1" fill="#000"/>
<rect x="1128" y="788" width="3" height="1" fill="#000"/>
<rect x="1134" y="788" width="3" height="1" fill="#000"/>
<rect x="1140" y="788" width="3" height="1" fill="#000"/>
<rect x="1146" y="788" width="3" height="1" fill="#000"/>
<rect x="1152" y="788" width="3" height="1" fill="#000"/>
<rect x="1158" y="788" width="3" height="1" fill="#000"/>
<rect x="1164" y="788" width="3" height="1" fill="#000"/>
<rect x="1170" y="788" width="3" height="1" fill="#000"/>
<rect x="1176" y="788" width="3" height="1" fill="#000"/>
<rect x="1182" y="788" width="3" height="1" fill="#000"/>
<rect x="1188" y="788" width="3" height="1" fill="#000"/>
<rect x="1194" y="788" width="3" height="1" fill="#000"/>
<rect x="1200" y="788" width="3" height="1" fill="#000"/>
<rect x="1206" y="788" width="3" height="1" fill="#000"/>
<rect x="1212" y="788" width="3" height="1" fill="#000"/>
<rect x="1218" y="788" width="3" height="1" fill="#000"/>
<rect x="1224" y="788" width="3" height="1" fill="#000"/>
<rect x="1230" y="788" width="3" height="1" fill="#000"/>
<rect x="1236" y="788" width="3" height="1" fill="#000"/>
<rect x="1242" y="788" width="3" height="1" fill="#000"/>
<rect x="1248" y="788" width="3" height="1" fill="#000"/>
<rect x="1254" y="788" width="3" height="1" fill="#000"/>
<rect x="1260" y="788" width="3" height="1" fill="#000"/>
<rect x="1266" y="788" width="3" height="1" fill="#000"/>
<rect x="1272" y="788" width="3" height="1" fill="#000"/>
<rect x="1278" y="788" width="3" height="1" fill="#000"/>
<rect x="1284" y="788" width="3" height="1" fill="#000"/>
<rect x="1290" y="788" width="3" height="1" fill="#000"/>
<rect x="1296" y="788" width="3" height="1" fill="#000"/>
<rect x="1302" y="788" width="3" height="1" fill="#000"/>
<rect x="1308" y="788" width="3" height="1" fill="#000"/>
<rect x="1314" y="788" width="3" height="1" fill="#000"/>
<rect x="1320" y="788" width="3" height="1" fill="#000"/>
<rect x="1326" y="788" width="3" height="1" fill="#000"/>
<rect x="1332" y="788" width="3" height="1" fill="#000"/>
<rect x="1338" y="788" width="3" height="1" fill="#000"/>
<rect x="1344" y="788" width="3" height="1" fill="#000"/>
<rect x="1350" y="788" width="3" height="1" fill="#000"/>
<rect x="1356" y="788" width="3" height="1" fill="#000"/>
<rect x="1362" y="788" width="3" height="1" fill="#000"/>
<rect x="1368" y="788" width="3" height="1" fill="#000"/>
<rect x="1374" y="788" width="3" height="1" fill="#000"/>
<rect x="1380" y="788" width="3" height="1" fill="#000"/>
<rect x="1386" y="788" width="3" height="1" fill="#000"/>
<rect x="1392" y="788" width="3" height="1" fill="#000"/>
<rect x="1398" y="788" width="3" height="1" fill="#000"/>
<rect x="1404" y="788" width="3" height="1" fill="#000"/>
<rect x="1410" y="788" width="3" height="1" fill="#000"/>
<rect x="1416" y="788" width="3" height="1" fill="#000"/>
<rect x="1422" y="788" width="3" height="1" fill="#000"/>
<rect x="1428" y="788" width="3" height="1" fill="#000"/>
<rect x="1434" y="788" width="3" height="1" fill="#000"/>
<rect x="1440" y="788" width="3" height="1" fill="#000"/>
<rect x="1446" y="788" width="3" height="1" fill="#000"/>
<rect x="1452" y="788" width="3" height="1" fill="#000"/>
<rect x="1458" y="788" width="3" height="1" fill="#000"/>
<rect x="1464" y="788" width="3" height="1" fill="#000"/>
<rect x="1470" y="788" width="3" height="1" fill="#000"/>
<rect x="1476" y="788" width="3" height="1" fill="#000"/>
<rect x="1482" y="788" width="3" height="1" fill="#000"/>
<rect x="1488" y="788" width="3" height="1" fill="#000"/>
<rect x="1494" y="788" width="3" height="1" fill="#000"/>
<rect x="1500" y="788" width="3" height="1" fill="#000"/>
<rect x="1506" y="788" width="3" height="1" fill="#000"/>
<rect x="1512" y="788" width="3" height="1" fill="#000"/>
<rect x="1518" y="788" width="3" height="1" fill="#000"/>
<rect x="1524" y="788" width="3" height="1" fill="#000"/>
<rect x="1530" y="788" width="3" height="1" fill="#000"/>
<rect x="1536" y="788" width="3" height="1" fill="#000"/>
<rect x="1542" y="788" width="3" height="1" fill="#000"/>
<rect x="1548" y="788" width="3" height="1" fill="#000"/>
<rect x="1554" y="788" width="3" height="1" fill="#000"/>
<rect x="1560" y="788" width="3" height="1" fill="#000"/>
<rect x="1566" y="788" width="3" height="1" fill="#000"/>
<rect x="1572" y="788" width="3" height="1" fill="#000"/>
<rect x="1578" y="788" width="3" height="1" fill="#000"/>
<rect x="1584" y="788" width="3" height="1" fill="#000"/>
<rect x="1590" y="788" width="3" height="1" fill="#000"/>
<rect x="1596" y="788" width="3" height="1" fill="#000"/>
<g clip-path="url(#crsi)">
<polyline points="5.5,777.8 21.5,778.1 37.5,781.1 53.5,782.9 69.5,779.8 85.5,780.3 101.5,781.6 117.5,779.8 133.5,779.8 149.5,778.6 165.5,779.8 181.5,778.5 197.5,774.5 213.5,769.0 229.5,769.0 245.5,776.0 261.5,776.0 277.5,776.0 293.5,777.7 309.5,777.7 325.5,777.0 341.5,762.7 357.5,761.0 373.5,761.0 389.5,761.0 405.5,767.0 421.5,765.9 437.5,769.2 453.5,769.7 469.5,768.9 485.5,770.7 501.5,764.6 517.5,767.1 533.5,767.7 549.5,774.6 565.5,774.6 581.5,773.2 597.5,772.7 613.5,768.2 629.5,763.3 645.5,759.0 661.5,758.8 677.5,756.5 693.5,754.0 709.5,754.0 725.5,749.1 741.5,748.9 757.5,750.8 773.5,752.7 789.5,752.9 805.5,755.3 821.5,756.7 837.5,752.0 853.5,751.3 869.5,751.0 885.5,753.9 901.5,758.4 917.5,758.8 933.5,761.1 949.5,762.8 965.5,762.8 981.5,762.8 997.5,761.8 1013.5,773.9 1029.5,775.0 1045.5,776.7 1061.5,776.7 1077.5,775.7 1093.5,775.0 1109.5,775.7 1125.5,775.7 1141.5,775.0 1157.5,777.3 1173.5,777.8 1189.5,775.2 1205.5,771.7 1221.5,773.9 1237.5,773.3 1253.5,772.9" fill="none" stroke="#1e90ff" stroke-width="2"/>
</g>
<rect x="4" y="724" width="1" height="77" fill="#000"/>
<text x="9" y="737" style="font-family:'DejaVu Sans Condensed','Liberation Sans',sans-serif;font-size:9px" fill="#000" textLength="67.5" lengthAdjust="spacingAndGlyphs">RSI(14) 36.2832</text>
<rect x="1603" y="726" width="1" height="1" fill="#000"/>
<text x="1606" y="736" style="font-family:'DejaVu Sans Condensed','Liberation Sans',sans-serif;font-size:9px" fill="#000">100</text>
<text x="1605" y="744" style="font-family:'DejaVu Sans Condensed','Liberation Sans',sans-serif;font-size:9px" fill="#000">80</text>
<text x="1605" y="766" style="font-family:'DejaVu Sans Condensed','Liberation Sans',sans-serif;font-size:9px" fill="#000">50</text>
<text x="1605" y="792" style="font-family:'DejaVu Sans Condensed','Liberation Sans',sans-serif;font-size:9px" fill="#000">15</text>
<text x="1606" y="797" style="font-family:'DejaVu Sans Condensed','Liberation Sans',sans-serif;font-size:9px" fill="#000">0</text>
<rect x="5" y="801" width="1" height="3" fill="#000"/>
<text x="4" y="813" style="font-family:'DejaVu Sans Condensed','Liberation Sans',sans-serif;font-size:9px" fill="#000">23 Sep 2022</text>
<rect x="69" y="801" width="1" height="3" fill="#000"/>
<text x="68" y="813" style="font-family:'DejaVu Sans Condensed','Liberation Sans',sans-serif;font-size:9px" fill="#000">23 Sep 16:00</text>
<rect x="133" y="801" width="1" height="3" fill="#000"/>
<text x="132" y="813" style="font-family:'DejaVu Sans Condensed','Liberation Sans',sans-serif;font-size:9px" fill="#000">26 Sep 08:00</text>
<rect x="197" y="801" width="1" height="3" fill="#000"/>
<text x="196" y="813" style="font-family:'DejaVu Sans Condensed','Liberation Sans',sans-serif;font-size:9px" fill="#000">27 Sep 00:00</text>
<rect x="261" y="801" width="1" height="3" fill="#000"/>
<text x="260" y="813" style="font-family:'DejaVu Sans Condensed','Liberation Sans',sans-serif;font-size:9px" fill="#000">27 Sep 16:00</text>
<rect x="325" y="801" width="1" height="3" fill="#000"/>
<text x="324" y="813" style="font-family:'DejaVu Sans Condensed','Liberation Sans',sans-serif;font-size:9px" fill="#000">28 Sep 08:00</text>
<rect x="389" y="801" width="1" height="3" fill="#000"/>
<text x="388" y="813" style="font-family:'DejaVu Sans Condensed','Liberation Sans',sans-serif;font-size:9px" fill="#000">29 Sep 00:00</text>
<rect x="453" y="801" width="1" height="3" fill="#000"/>
<text x="452" y="813" style="font-family:'DejaVu Sans Condensed','Liberation Sans',sans-serif;font-size:9px" fill="#000">29 Sep 16:00</text>
<rect x="517" y="801" width="1" height="3" fill="#000"/>
<text x="516" y="813" style="font-family:'DejaVu Sans Condensed','Liberation Sans',sans-serif;font-size:9px" fill="#000">30 Sep 08:00</text>
<rect x="581" y="801" width="1" height="3" fill="#000"/>
<text x="580" y="813" style="font-family:'DejaVu Sans Condensed','Liberation Sans',sans-serif;font-size:9px" fill="#000">3 Oct 00:00</text>
<rect x="645" y="801" width="1" height="3" fill="#000"/>
<text x="644" y="813" style="font-family:'DejaVu Sans Condensed','Liberation Sans',sans-serif;font-size:9px" fill="#000">3 Oct 16:00</text>
<rect x="709" y="801" width="1" height="3" fill="#000"/>
<text x="708" y="813" style="font-family:'DejaVu Sans Condensed','Liberation Sans',sans-serif;font-size:9px" fill="#000">4 Oct 08:00</text>
<rect x="773" y="801" width="1" height="3" fill="#000"/>
<text x="772" y="813" style="font-family:'DejaVu Sans Condensed','Liberation Sans',sans-serif;font-size:9px" fill="#000">5 Oct 00:00</text>
<rect x="837" y="801" width="1" height="3" fill="#000"/>
<text x="836" y="813" style="font-family:'DejaVu Sans Condensed','Liberation Sans',sans-serif;font-size:9px" fill="#000">5 Oct 16:00</text>
<rect x="901" y="801" width="1" height="3" fill="#000"/>
<text x="900" y="813" style="font-family:'DejaVu Sans Condensed','Liberation Sans',sans-serif;font-size:9px" fill="#000">6 Oct 08:00</text>
<rect x="965" y="801" width="1" height="3" fill="#000"/>
<text x="964" y="813" style="font-family:'DejaVu Sans Condensed','Liberation Sans',sans-serif;font-size:9px" fill="#000">7 Oct 00:00</text>
<rect x="1029" y="801" width="1" height="3" fill="#000"/>
<text x="1028" y="813" style="font-family:'DejaVu Sans Condensed','Liberation Sans',sans-serif;font-size:9px" fill="#000">7 Oct 16:00</text>
<rect x="1093" y="801" width="1" height="3" fill="#000"/>
<text x="1092" y="813" style="font-family:'DejaVu Sans Condensed','Liberation Sans',sans-serif;font-size:9px" fill="#000">10 Oct 08:00</text>
<rect x="1157" y="801" width="1" height="3" fill="#000"/>
<text x="1156" y="813" style="font-family:'DejaVu Sans Condensed','Liberation Sans',sans-serif;font-size:9px" fill="#000">11 Oct 00:00</text>
<rect x="1221" y="801" width="1" height="3" fill="#000"/>
<text x="1220" y="813" style="font-family:'DejaVu Sans Condensed','Liberation Sans',sans-serif;font-size:9px" fill="#000">11 Oct 16:00</text>
<defs><pattern id="chk" width="2" height="2" patternUnits="userSpaceOnUse"><rect width="2" height="2" fill="#f0f0f0"/><rect width="1" height="1" fill="#fff"/><rect x="1" y="1" width="1" height="1" fill="#fff"/></pattern><linearGradient id="gold" x1="0" y1="0" x2="1" y2="1"><stop offset="0" stop-color="#fff0a0"/><stop offset="0.5" stop-color="#e8b820"/><stop offset="1" stop-color="#b07010"/></linearGradient><linearGradient id="cgreen" x1="0" y1="0" x2="1" y2="0"><stop offset="0" stop-color="#30d030"/><stop offset="0.5" stop-color="#a0ffa0"/><stop offset="1" stop-color="#20c020"/></linearGradient><radialGradient id="clk" cx="0.35" cy="0.3" r="0.75"><stop offset="0" stop-color="#58b0ff"/><stop offset="0.6" stop-color="#1070d8"/><stop offset="1" stop-color="#0a4aa0"/></radialGradient><radialGradient id="badge" cx="0.4" cy="0.3" r="0.7"><stop offset="0" stop-color="#f06040"/><stop offset="1" stop-color="#d02010"/></radialGradient></defs>
<g shape-rendering="crispEdges">
<text x="-1.6" y="12.4" style="font-family:'Noto Sans CJK SC','WenQuanYi Zen Hei',sans-serif;font-size:11.6px" fill="#000">新订单</text>
<g shape-rendering="auto"><polygon points="50.5,2 60.5,9.5 61.2,11.5 53,17 45.2,11.2 47.5,7.5" fill="#b87818"/><polygon points="50.8,3 59.5,9.5 52.5,15 46.5,11 48.3,7.5" fill="url(#gold)"/><polyline points="52.8,16.3 60.8,10.8" fill="none" stroke="#f8f0c0" stroke-width="1"/><polyline points="46,11.5 52.8,16.3" fill="none" stroke="#c89020" stroke-width="0.8"/></g>
<g shape-rendering="auto"><polygon points="75,2.5 77,1.2 86.5,1.2 86.5,10 77,10 75,11" fill="#6cc4f8"/><rect x="77" y="2" width="9.5" height="8.5" fill="#1896ee" stroke="#0a70c8" stroke-width="0.8"/><rect x="79.5" y="5" width="5.5" height="1.4" fill="#e8f6ff"/><rect x="80.5" y="7" width="3" height="1" fill="#bfe6ff"/><path d="M74.5,16.7 C72,16.5 72.2,12.6 75.5,12.8 C75.8,10.4 79,9.4 80.5,11 C81.5,8.8 85.5,9 85.8,11.6 C88.8,11.4 89.6,16.2 86.5,16.7 Z" fill="#f2f4fa" stroke="#5a6888" stroke-width="0.9"/><path d="M74.5,15.6 L86.8,15.6" stroke="#c8d0e0" stroke-width="1"/></g>
<g shape-rendering="auto" fill="none" stroke-width="1.1"><path d="M109,1.2 A7.5,7.5 0 0 0 109,16.2" stroke="#4a78d8"/><path d="M109,1.2 A7.5,7.5 0 0 1 109,16.2" stroke="#88c088"/><path d="M109,3.9 A4.8,4.8 0 0 0 109,13.5" stroke="#6a90e0"/><path d="M109,3.9 A4.8,4.8 0 0 1 109,13.5" stroke="#90c890"/><path d="M109,6.3 A2.4,2.4 0 0 0 109,11.1" stroke="#a0b8f0"/><circle cx="109" cy="8.7" r="1.5" fill="#2050c0" stroke="none"/><line x1="109.4" y1="9" x2="109.4" y2="16.6" stroke="#20a020" stroke-width="1.3"/></g>
<g shape-rendering="auto"><polygon points="128.5,8 143.5,8 135.5,16.5" fill="#f8e070" stroke="#d0a020" stroke-width="0.8"/><ellipse cx="136" cy="5.3" rx="7.8" ry="2.4" fill="#5ab0e0" stroke="#2a80b0" stroke-width="0.8"/><ellipse cx="136" cy="3.6" rx="3.6" ry="2.6" fill="#7ac4ec" stroke="#2a80b0" stroke-width="0.8"/><circle cx="140.4" cy="12.6" r="4" fill="#e02010" stroke="#b01000" stroke-width="0.6"/><rect x="139" y="11.2" width="2.8" height="2.8" fill="#ffffff"/></g>
<text x="149.4" y="12.4" style="font-family:'Noto Sans CJK SC','WenQuanYi Zen Hei',sans-serif;font-size:11.6px" fill="#000">自动交易</text>
<rect x="204" y="0" width="1" height="19" fill="#a0a0a0"/>
<rect x="205" y="0" width="1" height="19" fill="#ffffff"/>
<rect x="208" y="1" width="3" height="1" fill="#7a7a7a"/>
<rect x="208" y="3" width="3" height="1" fill="#7a7a7a"/>
<rect x="208" y="5" width="3" height="1" fill="#7a7a7a"/>
<rect x="208" y="7" width="3" height="1" fill="#7a7a7a"/>
<rect x="208" y="9" width="3" height="1" fill="#7a7a7a"/>
<rect x="208" y="11" width="3" height="1" fill="#7a7a7a"/>
<rect x="208" y="13" width="3" height="1" fill="#7a7a7a"/>
<rect x="208" y="15" width="3" height="1" fill="#7a7a7a"/>
<rect x="208" y="17" width="3" height="1" fill="#7a7a7a"/>
<rect x="222" y="4" width="1" height="13" fill="#4a4a4a"/>
<polygon points="220.4,6.2 222.5,3 224.6,6.2" fill="#4a4a4a" shape-rendering="auto"/>
<rect x="220" y="14" width="12" height="1" fill="#4a4a4a"/>
<polygon points="230.8,12.4 234,14.5 230.8,16.6" fill="#4a4a4a" shape-rendering="auto"/>
<rect x="228" y="4" width="1" height="9" fill="#108a10"/>
<rect x="229" y="5" width="2" height="1" fill="#108a10"/>
<rect x="226" y="11" width="2" height="1" fill="#108a10"/>
<rect x="243" y="0" width="24" height="19" fill="url(#chk)"/>
<rect x="242" y="0" width="1" height="19" fill="#a0a0a0"/>
<rect x="267" y="0" width="1" height="20" fill="#ffffff"/>
<rect x="242" y="19" width="25" height="1" fill="#ffffff"/>
<rect x="250" y="4" width="1" height="13" fill="#4a4a4a"/>
<polygon points="248.4,6.2 250.5,3 252.6,6.2" fill="#4a4a4a" shape-rendering="auto"/>
<rect x="248" y="14" width="12" height="1" fill="#4a4a4a"/>
<polygon points="258.8,12.4 262,14.5 258.8,16.6" fill="#4a4a4a" shape-rendering="auto"/>
<rect x="256" y="1" width="1" height="12" fill="#008000"/>
<rect x="254.5" y="3.5" width="4" height="7" fill="url(#cgreen)" stroke="#008000" stroke-width="1" shape-rendering="auto"/>
<rect x="278" y="4" width="1" height="13" fill="#4a4a4a"/>
<polygon points="276.4,6.2 278.5,3 280.6,6.2" fill="#4a4a4a" shape-rendering="auto"/>
<rect x="276" y="14" width="12" height="1" fill="#4a4a4a"/>
<polygon points="286.8,12.4 290,14.5 286.8,16.6" fill="#4a4a4a" shape-rendering="auto"/>
<polyline points="277,11.5 280,8.5 283,6.3 285,7 287,9 289,10" fill="none" stroke="#30a030" stroke-width="1.3" shape-rendering="auto"/>
<rect x="299" y="0" width="1" height="19" fill="#a0a0a0"/>
<rect x="300" y="0" width="1" height="19" fill="#ffffff"/>
<g shape-rendering="auto">
<line x1="318" y1="11" x2="322.5" y2="15.5" stroke="#b08000" stroke-width="3.2"/>
<line x1="318" y1="11" x2="322.5" y2="15.5" stroke="#f0d840" stroke-width="1.8"/>
<circle cx="314" cy="6.9" r="5.4" fill="#dff2ff" stroke="#3070c0" stroke-width="1.1"/>
<rect x="310.5" y="6" width="7" height="2" fill="#3a7ab0"/>
<rect x="313" y="3.4" width="2" height="7" fill="#3a7ab0"/>
</g>
<g shape-rendering="auto">
<line x1="346" y1="11" x2="350.5" y2="15.5" stroke="#b08000" stroke-width="3.2"/>
<line x1="346" y1="11" x2="350.5" y2="15.5" stroke="#f0d840" stroke-width="1.8"/>
<circle cx="342" cy="6.9" r="5.4" fill="#dff2ff" stroke="#3070c0" stroke-width="1.1"/>
<rect x="338.5" y="6" width="7" height="2" fill="#3a7ab0"/>
</g>
<rect x="364" y="1" width="8" height="8" fill="#2a9a20"/>
<rect x="365" y="4" width="6" height="4" fill="#ffffff"/>
<rect x="366" y="5" width="4" height="1" fill="#90d080"/>
<rect x="365" y="2" width="1" height="1" fill="#ffffff"/>
<rect x="372" y="1" width="8" height="8" fill="#1a50d0"/>
<rect x="373" y="4" width="6" height="4" fill="#ffffff"/>
<rect x="374" y="5" width="4" height="1" fill="#8090e0"/>
<rect x="373" y="2" width="1" height="1" fill="#ffffff"/>
<rect x="364" y="9" width="8" height="8" fill="#1a50d0"/>
<rect x="365" y="12" width="6" height="4" fill="#ffffff"/>
<rect x="366" y="13" width="4" height="1" fill="#8090e0"/>
<rect x="365" y="10" width="1" height="1" fill="#ffffff"/>
<rect x="372" y="9" width="8" height="8" fill="#2a9a20"/>
<rect x="373" y="12" width="6" height="4" fill="#ffffff"/>
<rect x="374" y="13" width="4" height="1" fill="#90d080"/>
<rect x="373" y="10" width="1" height="1" fill="#ffffff"/>
<rect x="389" y="0" width="1" height="19" fill="#a0a0a0"/>
<rect x="390" y="0" width="1" height="19" fill="#ffffff"/>
<rect x="395" y="0" width="23" height="19" fill="url(#chk)"/>
<rect x="394" y="0" width="1" height="19" fill="#a0a0a0"/>
<rect x="418" y="0" width="1" height="20" fill="#ffffff"/>
<rect x="394" y="19" width="24" height="1" fill="#ffffff"/>
<rect x="402" y="4" width="1" height="13" fill="#4a4a4a"/>
<polygon points="400.4,6.2 402.5,3 404.6,6.2" fill="#4a4a4a" shape-rendering="auto"/>
<rect x="400" y="14" width="12" height="1" fill="#4a4a4a"/>
<polygon points="410.8,12.4 414,14.5 410.8,16.6" fill="#4a4a4a" shape-rendering="auto"/>
<polygon points="407,5 407,12 411,8.5" fill="#80e080" stroke="#10a010" stroke-width="1" shape-rendering="auto"/>
<rect x="423" y="0" width="24" height="19" fill="url(#chk)"/>
<rect x="422" y="0" width="1" height="19" fill="#a0a0a0"/>
<rect x="447" y="0" width="1" height="20" fill="#ffffff"/>
<rect x="422" y="19" width="25" height="1" fill="#ffffff"/>
<rect x="430" y="4" width="1" height="13" fill="#4a4a4a"/>
<polygon points="428.4,6.2 430.5,3 432.6,6.2" fill="#4a4a4a" shape-rendering="auto"/>
<rect x="428" y="14" width="12" height="1" fill="#4a4a4a"/>
<polygon points="438.8,12.4 442,14.5 438.8,16.6" fill="#4a4a4a" shape-rendering="auto"/>
<rect x="436" y="3" width="1" height="10" fill="#1060a0"/>
<polygon points="437.5,8.5 440.5,6 440.5,7.8 442.5,7.8 442.5,9.2 440.5,9.2 440.5,11" fill="#e04000" shape-rendering="auto"/>
<rect x="451" y="0" width="1" height="19" fill="#a0a0a0"/>
<rect x="452" y="0" width="1" height="19" fill="#ffffff"/>
<g shape-rendering="auto"><path d="M461.5,1.5 L469.5,1.5 L472.5,4.5 L472.5,14.5 L461.5,14.5 Z" fill="#ffffff" stroke="#707070" stroke-width="1"/><path d="M469.5,1.5 L469.5,4.5 L472.5,4.5 Z" fill="#606060"/><path d="M464.5,5 L464.5,12" stroke="#5a4a20" stroke-width="1"/><path d="M469.2,7.5 h3.6 v3.6 h3.6 v3.6 h-3.6 v3.6 h-3.6 v-3.6 h-3.6 v-3.6 h3.6 z" fill="#30e030" stroke="#10900f" stroke-width="1"/></g>
<polygon points="483,8 488,8 485.5,11" fill="#000" shape-rendering="auto"/>
<g shape-rendering="auto"><circle cx="506.8" cy="8.6" r="7.5" fill="url(#clk)"/><circle cx="506.8" cy="8.6" r="5.4" fill="#ffffff" stroke="#5a9ae0" stroke-width="0.5"/><line x1="506.80" y1="4.40" x2="506.80" y2="3.60" stroke="#909090" stroke-width="0.7"/><line x1="508.90" y1="4.96" x2="509.30" y2="4.27" stroke="#909090" stroke-width="0.7"/><line x1="510.44" y1="6.50" x2="511.13" y2="6.10" stroke="#909090" stroke-width="0.7"/><line x1="511.00" y1="8.60" x2="511.80" y2="8.60" stroke="#909090" stroke-width="0.7"/><line x1="510.44" y1="10.70" x2="511.13" y2="11.10" stroke="#909090" stroke-width="0.7"/><line x1="508.90" y1="12.24" x2="509.30" y2="12.93" stroke="#909090" stroke-width="0.7"/><line x1="506.80" y1="12.80" x2="506.80" y2="13.60" stroke="#909090" stroke-width="0.7"/><line x1="504.70" y1="12.24" x2="504.30" y2="12.93" stroke="#909090" stroke-width="0.7"/><line x1="503.16" y1="10.70" x2="502.47" y2="11.10" stroke="#909090" stroke-width="0.7"/><line x1="502.60" y1="8.60" x2="501.80" y2="8.60" stroke="#909090" stroke-width="0.7"/><line x1="503.16" y1="6.50" x2="502.47" y2="6.10" stroke="#909090" stroke-width="0.7"/><line x1="504.70" y1="4.96" x2="504.30" y2="4.27" stroke="#909090" stroke-width="0.7"/><line x1="506.6" y1="8.8" x2="505.6" y2="5" stroke="#111" stroke-width="1.1"/><line x1="506.6" y1="8.8" x2="509.6" y2="8.8" stroke="#111" stroke-width="1.1"/></g>
<polygon points="522,8 527,8 524.5,11" fill="#000" shape-rendering="auto"/>
<g shape-rendering="auto"><rect x="538.5" y="2.5" width="15" height="13" fill="#ffffff" stroke="#3a70c0" stroke-width="1"/><rect x="539" y="3" width="14" height="2" fill="#4a80d0"/><rect x="539" y="9.6" width="14" height="1.2" fill="#4a80d0"/><polyline points="540.5,8 542,8 543.5,7 545,6.5 546.5,7.3 548,7.3 550,6.5 551.5,6.5" fill="none" stroke="#a02010" stroke-width="1"/><polyline points="541,13.2 542.5,12.5 544,12.5 545.5,13.3 547,12.2 548.5,11.2 550,12.2 551.5,13.5" fill="none" stroke="#109010" stroke-width="1"/></g>
<polygon points="561,8 566,8 563.5,11" fill="#000" shape-rendering="auto"/>
<rect x="572" y="0" width="1" height="19" fill="#a0a0a0"/>
<rect x="573" y="0" width="1" height="19" fill="#ffffff"/>
<rect x="576" y="1" width="3" height="1" fill="#7a7a7a"/>
<rect x="576" y="3" width="3" height="1" fill="#7a7a7a"/>
<rect x="576" y="5" width="3" height="1" fill="#7a7a7a"/>
<rect x="576" y="7" width="3" height="1" fill="#7a7a7a"/>
<rect x="576" y="9" width="3" height="1" fill="#7a7a7a"/>
<rect x="576" y="11" width="3" height="1" fill="#7a7a7a"/>
<rect x="576" y="13" width="3" height="1" fill="#7a7a7a"/>
<rect x="576" y="15" width="3" height="1" fill="#7a7a7a"/>
<rect x="576" y="17" width="3" height="1" fill="#7a7a7a"/>
<rect x="583" y="0" width="24" height="19" fill="url(#chk)"/>
<rect x="582" y="0" width="1" height="19" fill="#a0a0a0"/>
<rect x="607" y="0" width="1" height="20" fill="#ffffff"/>
<rect x="582" y="19" width="25" height="1" fill="#ffffff"/>
<polygon points="590,2 590,13.5 592.6,10.8 595,16 596.8,15.2 594.6,10.2 598.2,9.8" fill="#4a4a4a" shape-rendering="auto"/>
<rect x="622" y="2" width="1" height="6" fill="#4a4a4a"/><rect x="622" y="11" width="1" height="6" fill="#4a4a4a"/>
<rect x="615" y="9" width="6" height="1" fill="#4a4a4a"/><rect x="624" y="9" width="6" height="1" fill="#4a4a4a"/>
<rect x="639" y="0" width="1" height="19" fill="#a0a0a0"/>
<rect x="640" y="0" width="1" height="19" fill="#ffffff"/>
<rect x="656" y="3" width="1" height="13" fill="#505050"/>
<rect x="679" y="9" width="12" height="1" fill="#505050"/>
<line x1="706.5" y1="16" x2="719" y2="4" stroke="#4a4a4a" stroke-width="1" stroke-dasharray="1.3,0.3" shape-rendering="auto"/>
<g shape-rendering="auto" stroke="#3a3a3a" fill="none"><line x1="733" y1="10.5" x2="741" y2="2.8" stroke-width="0.9" stroke-dasharray="1.2,0.4"/><line x1="738.2" y1="16" x2="747.3" y2="7.2" stroke-width="0.9" stroke-dasharray="1.2,0.4"/><path d="M734.8,15.8 C735.2,13 735.6,10.5 736.8,8.2" stroke-width="1.1"/><path d="M737.6,13.2 C738,10.5 738.5,8 739.6,5.8" stroke-width="1.1"/><path d="M740.6,11.4 C741,8.5 741.4,6 742.6,3.6" stroke-width="1.1"/><path d="M743.6,9.6 C744,6.5 744.4,3.5 745.2,1" stroke-width="1.1"/></g>
<text x="744" y="18" style="font-family:'DejaVu Sans Condensed','Liberation Sans',sans-serif;font-size:7px;font-weight:bold" fill="#444">E</text>
<rect x="762" y="2" width="1" height="1" fill="#444"/>
<rect x="764" y="2" width="1" height="1" fill="#444"/>
<rect x="766" y="2" width="1" height="1" fill="#444"/>
<rect x="768" y="2" width="1" height="1" fill="#444"/>
<rect x="770" y="2" width="1" height="1" fill="#444"/>
<rect x="772" y="2" width="1" height="1" fill="#444"/>
<rect x="774" y="2" width="1" height="1" fill="#444"/>
<rect x="762" y="5" width="1" height="1" fill="#444"/>
<rect x="764" y="5" width="1" height="1" fill="#444"/>
<rect x="766" y="5" width="1" height="1" fill="#444"/>
<rect x="768" y="5" width="1" height="1" fill="#444"/>
<rect x="770" y="5" width="1" height="1" fill="#444"/>
<rect x="772" y="5" width="1" height="1" fill="#444"/>
<rect x="774" y="5" width="1" height="1" fill="#444"/>
<rect x="762" y="9" width="1" height="1" fill="#444"/>
<rect x="764" y="9" width="1" height="1" fill="#444"/>
<rect x="766" y="9" width="1" height="1" fill="#444"/>
<rect x="768" y="9" width="1" height="1" fill="#444"/>
<rect x="770" y="9" width="1" height="1" fill="#444"/>
<rect x="772" y="9" width="1" height="1" fill="#444"/>
<rect x="774" y="9" width="1" height="1" fill="#444"/>
<rect x="762" y="13" width="1" height="1" fill="#444"/>
<rect x="764" y="13" width="1" height="1" fill="#444"/>
<rect x="766" y="13" width="1" height="1" fill="#444"/>
<rect x="768" y="13" width="1" height="1" fill="#444"/>
<rect x="770" y="13" width="1" height="1" fill="#444"/>
<rect x="772" y="13" width="1" height="1" fill="#444"/>
<rect x="774" y="13" width="1" height="1" fill="#444"/>
<text x="771.5" y="18" style="font-family:'DejaVu Sans Condensed','Liberation Sans',sans-serif;font-size:7px;font-weight:bold" fill="#444">F</text>
<text x="792.5" y="14" style="font-family:'Liberation Sans',sans-serif;font-size:12px;font-weight:bold" fill="#555">A</text>
<rect x="819" y="2" width="1" height="1" fill="#444"/><rect x="819" y="15" width="1" height="1" fill="#444"/>
<rect x="821" y="2" width="1" height="1" fill="#444"/><rect x="821" y="15" width="1" height="1" fill="#444"/>
<rect x="823" y="2" width="1" height="1" fill="#444"/><rect x="823" y="15" width="1" height="1" fill="#444"/>
<rect x="825" y="2" width="1" height="1" fill="#444"/><rect x="825" y="15" width="1" height="1" fill="#444"/>
<rect x="827" y="2" width="1" height="1" fill="#444"/><rect x="827" y="15" width="1" height="1" fill="#444"/>
<rect x="829" y="2" width="1" height="1" fill="#444"/><rect x="829" y="15" width="1" height="1" fill="#444"/>
<rect x="819" y="2" width="1" height="1" fill="#444"/><rect x="830" y="2" width="1" height="1" fill="#444"/>
<rect x="819" y="4" width="1" height="1" fill="#444"/><rect x="830" y="4" width="1" height="1" fill="#444"/>
<rect x="819" y="6" width="1" height="1" fill="#444"/><rect x="830" y="6" width="1" height="1" fill="#444"/>
<rect x="819" y="8" width="1" height="1" fill="#444"/><rect x="830" y="8" width="1" height="1" fill="#444"/>
<rect x="819" y="10" width="1" height="1" fill="#444"/><rect x="830" y="10" width="1" height="1" fill="#444"/>
<rect x="819" y="12" width="1" height="1" fill="#444"/><rect x="830" y="12" width="1" height="1" fill="#444"/>
<rect x="819" y="14" width="1" height="1" fill="#444"/><rect x="830" y="14" width="1" height="1" fill="#444"/>
<rect x="821" y="6" width="8" height="1.5" fill="#555"/><rect x="824" y="6" width="1.6" height="8" fill="#555"/>
<g shape-rendering="auto" fill="#555"><polygon points="846.5,5.5 849.5,2.5 852.5,5.5 849.5,7.5"/><polygon points="853.5,12.5 856.5,10 860,12.5 856.5,15.5"/><polyline points="848.5,9.5 850.5,12 854,8" fill="none" stroke="#555" stroke-width="1.2"/></g>
<polygon points="867,8 872,8 869.5,11" fill="#000" shape-rendering="auto"/>
<rect x="878" y="0" width="1" height="19" fill="#a0a0a0"/>
<rect x="879" y="0" width="1" height="19" fill="#ffffff"/>
<rect x="882" y="1" width="3" height="1" fill="#7a7a7a"/>
<rect x="882" y="3" width="3" height="1" fill="#7a7a7a"/>
<rect x="882" y="5" width="3" height="1" fill="#7a7a7a"/>
<rect x="882" y="7" width="3" height="1" fill="#7a7a7a"/>
<rect x="882" y="9" width="3" height="1" fill="#7a7a7a"/>
<rect x="882" y="11" width="3" height="1" fill="#7a7a7a"/>
<rect x="882" y="13" width="3" height="1" fill="#7a7a7a"/>
<rect x="882" y="15" width="3" height="1" fill="#7a7a7a"/>
<rect x="882" y="17" width="3" height="1" fill="#7a7a7a"/>
<rect x="1029" y="0" width="24" height="19" fill="url(#chk)"/>
<rect x="1028" y="0" width="1" height="19" fill="#a0a0a0"/>
<rect x="1053" y="0" width="1" height="20" fill="#ffffff"/>
<rect x="1028" y="19" width="25" height="1" fill="#ffffff"/>
<text x="894" y="13" style="font-family:'DejaVu Sans Condensed','Liberation Sans',sans-serif;font-size:9.5px" fill="#222">M1</text>
<text x="921.5" y="13" style="font-family:'DejaVu Sans Condensed','Liberation Sans',sans-serif;font-size:9.5px" fill="#222">M5</text>
<text x="947.5" y="13" style="font-family:'DejaVu Sans Condensed','Liberation Sans',sans-serif;font-size:9.5px" fill="#222">M15</text>
<text x="975.5" y="13" style="font-family:'DejaVu Sans Condensed','Liberation Sans',sans-serif;font-size:9.5px" fill="#222">M30</text>
<text x="1006.5" y="13" style="font-family:'DejaVu Sans Condensed','Liberation Sans',sans-serif;font-size:9.5px" fill="#222">H1</text>
<text x="1033.5" y="13" style="font-family:'DejaVu Sans Condensed','Liberation Sans',sans-serif;font-size:9.5px" fill="#222">H4</text>
<text x="1062.5" y="13" style="font-family:'DejaVu Sans Condensed','Liberation Sans',sans-serif;font-size:9.5px" fill="#222">D1</text>
<text x="1090" y="13" style="font-family:'DejaVu Sans Condensed','Liberation Sans',sans-serif;font-size:9.5px" fill="#222">W1</text>
<text x="1117" y="13" style="font-family:'DejaVu Sans Condensed','Liberation Sans',sans-serif;font-size:9.5px" fill="#222">MN</text>
<rect x="1139" y="0" width="1" height="19" fill="#a0a0a0"/>
<rect x="1140" y="0" width="1" height="19" fill="#ffffff"/>
<g shape-rendering="auto"><circle cx="1609.6" cy="6.3" r="3.6" fill="#f4f6ff" stroke="#2a66d0" stroke-width="1.4"/><line x1="1607" y1="9" x2="1602.5" y2="13.5" stroke="#2a66d0" stroke-width="2.2" stroke-linecap="round"/></g>
<g shape-rendering="auto"><ellipse cx="1632.5" cy="11" rx="5.5" ry="4.6" fill="#e8e8ee" stroke="#a8a8b0" stroke-width="0.8"/><polygon points="1629,14.5 1629.5,17.5 1632,15" fill="#c8c8d0"/><circle cx="1640.6" cy="6.5" r="8" fill="url(#badge)"/><text x="1636.9" y="11.3" style="font-family:'Liberation Serif',serif;font-size:12.5px;font-weight:bold" fill="#fff">1</text></g>
</g>
</svg>
</body></html>
